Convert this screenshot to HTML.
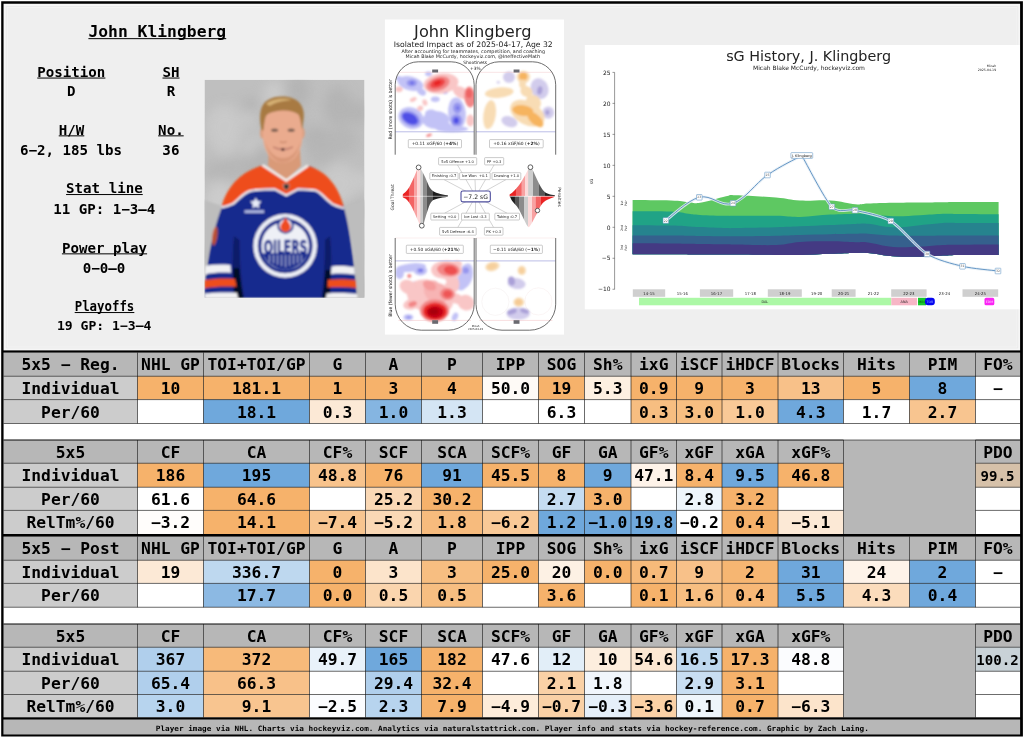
<!DOCTYPE html>
<html lang="en">
<head>
<meta charset="utf-8">
<title>John Klingberg – 5x5 player card</title>
<style>
html,body{margin:0;padding:0;background:#fff;}
body{width:1024px;height:738px;overflow:hidden;}
svg{display:block;}
text{white-space:pre;}
</style>
</head>
<body>
<svg width="1024" height="738" viewBox="0 0 1024 738" font-family="'DejaVu Sans Mono','Liberation Mono',monospace" font-weight="bold" font-size="16.3" text-anchor="middle" fill="#000">
<rect x="0.00" y="0.00" width="1024.00" height="738.00" fill="#ffffff" />
<rect x="2.50" y="2.60" width="1018.90" height="732.90" fill="#efefef" />
<path d="M3.5 3.6H1020.1V351H3.5Z M7.6 7.8V346.8H1016.6V7.8Z" fill="#f6f6f6" fill-rule="evenodd"/>
<path d="M6.3 6.5H1017.8V348H6.3Z" fill="none" stroke="#e6e6e6" stroke-width="0.7"/>
<g transform="scale(1 0.95)">
<text x="157.30" y="39.37" font-size="16.35">John Klingberg</text>
<rect x="88.40" y="40.16" width="137.80" height="1.05"/>
<text x="71.30" y="80.84" font-size="14.15">Position</text>
<rect x="37.23" y="81.63" width="68.15" height="1.05"/>
<text x="171.00" y="80.84" font-size="14.15">SH</text>
<rect x="162.48" y="81.63" width="17.04" height="1.05"/>
<text x="71.30" y="100.63" font-size="14.15">D</text>
<text x="170.90" y="100.63" font-size="14.15">R</text>
<text x="71.50" y="141.68" font-size="14.15">H/W</text>
<rect x="58.72" y="142.47" width="25.55" height="1.05"/>
<text x="170.90" y="141.68" font-size="14.15">No.</text>
<rect x="158.12" y="142.47" width="25.55" height="1.05"/>
<text x="71.00" y="163.26" font-size="14.15">6−2, 185 lbs</text>
<text x="170.90" y="163.26" font-size="14.15">36</text>
<text x="104.40" y="203.47" font-size="14.15">Stat line</text>
<rect x="66.07" y="204.26" width="76.66" height="1.05"/>
<text x="104.30" y="225.58" font-size="14.15">11 GP: 1−3—4</text>
<text x="104.50" y="265.89" font-size="14.15">Power play</text>
<rect x="61.91" y="266.68" width="85.18" height="1.05"/>
<text x="104.10" y="287.47" font-size="14.15">0−0—0</text>
<text x="104.50" y="327.68" font-size="14.15" textLength="59.63" lengthAdjust="spacingAndGlyphs">Playoffs</text>
<rect x="74.69" y="328.47" width="59.63" height="1.05"/>
<text x="104.20" y="347.26" font-size="13.1">19 GP: 1−3—4</text>
</g>
<defs>
<clipPath id="pc"><rect x="204.5" y="79.8" width="160.0" height="218.0"/></clipPath>
<filter id="b1" x="-20%" y="-20%" width="140%" height="140%"><feGaussianBlur stdDeviation="0.85"/></filter>
<filter id="b2" x="-20%" y="-20%" width="140%" height="140%"><feGaussianBlur stdDeviation="1.4"/></filter>
<filter id="b6" x="-50%" y="-50%" width="200%" height="200%"><feGaussianBlur stdDeviation="6"/></filter>
</defs>
<g clip-path="url(#pc)">
<rect x="204.5" y="79.8" width="160.0" height="218.0" fill="#bfbfbf"/>
<g filter="url(#b6)" opacity="0.55">
<ellipse cx="256.3" cy="112.7" rx="18.4" ry="9.2" fill="#d6d6d6"/>
<ellipse cx="219.6" cy="206.8" rx="22.6" ry="11.4" fill="#d2d2d2"/>
<ellipse cx="273.9" cy="95.0" rx="9.5" ry="14.8" fill="#d6d6d6"/>
<ellipse cx="224.3" cy="128.5" rx="18.0" ry="23.2" fill="#d6d6d6"/>
<ellipse cx="298.2" cy="90.6" rx="11.5" ry="16.9" fill="#acacac"/>
<ellipse cx="250.8" cy="111.2" rx="9.9" ry="12.9" fill="#a8a8a8"/>
<ellipse cx="233.4" cy="206.6" rx="18.2" ry="14.0" fill="#d6d6d6"/>
<ellipse cx="318.4" cy="202.8" rx="17.9" ry="15.9" fill="#d6d6d6"/>
<ellipse cx="272.9" cy="148.3" rx="17.4" ry="15.3" fill="#cccccc"/>
<ellipse cx="244.2" cy="119.0" rx="20.5" ry="9.3" fill="#cccccc"/>
<ellipse cx="288.5" cy="270.6" rx="19.7" ry="12.6" fill="#d2d2d2"/>
<ellipse cx="223.4" cy="171.0" rx="20.1" ry="10.4" fill="#b0b0b0"/>
<ellipse cx="272.0" cy="289.5" rx="9.2" ry="16.9" fill="#cccccc"/>
<ellipse cx="258.9" cy="156.1" rx="15.9" ry="20.8" fill="#d2d2d2"/>
<ellipse cx="338.9" cy="285.7" rx="15.6" ry="18.6" fill="#d2d2d2"/>
<ellipse cx="321.5" cy="147.3" rx="17.2" ry="18.9" fill="#b0b0b0"/>
<ellipse cx="250.0" cy="163.9" rx="18.7" ry="8.4" fill="#b0b0b0"/>
<ellipse cx="261.4" cy="213.0" rx="15.9" ry="11.5" fill="#cccccc"/>
<ellipse cx="225.2" cy="133.8" rx="14.3" ry="21.9" fill="#d2d2d2"/>
<ellipse cx="231.1" cy="167.4" rx="12.4" ry="10.2" fill="#b0b0b0"/>
<ellipse cx="342.7" cy="140.5" rx="14.6" ry="13.7" fill="#b0b0b0"/>
<ellipse cx="357.7" cy="112.7" rx="10.8" ry="11.7" fill="#acacac"/>
<ellipse cx="206.4" cy="261.0" rx="10.9" ry="12.5" fill="#acacac"/>
<ellipse cx="271.5" cy="160.3" rx="17.1" ry="23.2" fill="#a8a8a8"/>
<ellipse cx="342.0" cy="286.9" rx="18.5" ry="19.8" fill="#b0b0b0"/>
<ellipse cx="348.4" cy="249.8" rx="22.0" ry="20.8" fill="#b0b0b0"/>
<ellipse cx="268.2" cy="165.7" rx="15.7" ry="14.4" fill="#acacac"/>
<ellipse cx="215.3" cy="125.3" rx="10.6" ry="13.4" fill="#d2d2d2"/>
<ellipse cx="220.9" cy="203.4" rx="16.6" ry="23.2" fill="#d6d6d6"/>
<ellipse cx="208.6" cy="270.4" rx="17.8" ry="10.4" fill="#cccccc"/>
<ellipse cx="357.4" cy="211.1" rx="15.6" ry="9.8" fill="#b0b0b0"/>
<ellipse cx="363.4" cy="181.4" rx="15.7" ry="9.4" fill="#d2d2d2"/>
<ellipse cx="324.4" cy="241.2" rx="15.7" ry="19.1" fill="#d6d6d6"/>
<ellipse cx="208.2" cy="287.1" rx="16.5" ry="10.3" fill="#d6d6d6"/>
<ellipse cx="350.8" cy="245.1" rx="12.8" ry="18.3" fill="#d2d2d2"/>
<ellipse cx="315.9" cy="136.7" rx="13.9" ry="10.7" fill="#acacac"/>
<ellipse cx="289.7" cy="249.6" rx="13.3" ry="11.6" fill="#acacac"/>
<ellipse cx="333.5" cy="258.2" rx="19.8" ry="11.6" fill="#d6d6d6"/>
<ellipse cx="283.3" cy="239.2" rx="23.8" ry="20.6" fill="#b0b0b0"/>
<ellipse cx="246.0" cy="230.8" rx="23.3" ry="15.2" fill="#a8a8a8"/>
<ellipse cx="362.6" cy="288.0" rx="13.8" ry="11.5" fill="#acacac"/>
<ellipse cx="279.7" cy="153.4" rx="15.7" ry="23.8" fill="#d6d6d6"/>
<ellipse cx="339.0" cy="184.3" rx="18.4" ry="20.8" fill="#d2d2d2"/>
<ellipse cx="338.0" cy="105.9" rx="14.2" ry="19.4" fill="#acacac"/>
<ellipse cx="281.0" cy="118.7" rx="20.6" ry="13.3" fill="#a8a8a8"/>
<ellipse cx="267.8" cy="167.3" rx="23.1" ry="19.6" fill="#acacac"/>
</g>
<g filter="url(#b1)">
<path d="M222 206 C230 196 244 172 262 166 L286 181 L309 166 C326 172 338 194 344 207 C350 230 353 256 357 298 L204 298 C207 262 212 232 222 206Z" fill="#172b8e"/>
<path d="M234 236 C232 256 232 278 234.5 298 L244 298 C241 280 239.5 258 239.5 240Z" fill="#0c1450" opacity="0.6"/>
<path d="M233.4 268 C233 278 233.6 288 234.6 298 L243.6 298 C241.6 288 240 278 239 268Z" fill="#04061a" opacity="0.85"/>
<path d="M330 236 C332 256 331.4 278 329.6 298 L321.4 298 C324 280 325 258 325 240Z" fill="#0c1450" opacity="0.6"/>
<path d="M330.4 270 C330.8 280 330.4 290 329.6 298 L322.4 298 C323.8 290 324.8 280 325.4 270Z" fill="#04061a" opacity="0.8"/>
<path d="M204.5 200 L222 206 C214 228 209 250 205 270 L204.5 270Z" fill="#bdbdbd"/>
<path d="M364.5 200 L344 207 C350 228 354 250 357 280 L358 298 L364.5 298Z" fill="#bdbdbd"/>
<path d="M221.6 206 C227 187 240 172 262 165.5 L286 181 L308.5 166 C328 172 339 188 343.8 207 C338 205.5 334 204.5 332 203.2 C328 200.5 325 197.5 322 194.4 C320 192.4 318 190.8 316 190 C310 188.8 304 188.6 298 188.5 L286.3 194.5 L274.7 188.5 C268 188.6 262 188.8 256 189.3 C253.5 189.6 251.5 190 249.8 190.4 C247.5 191.4 245.5 192.6 243.4 194.2 C240 197 237 200.4 233.2 203.2 C230 204.8 226 206 221.6 206Z" fill="#ee4e1a"/>
<path d="M221.4 207.6 C226 206.6 230 205.2 233.4 203.6 C237 200.8 240 197.4 243.6 194.6 C245.6 193 247.6 191.8 250 191 C252 190.5 254 190.2 256 190 C262 189.5 268 189.3 274.6 189.2 L286.3 195.3 L298 189.2 C304 189.3 310 189.5 316 190.6 C318 191.3 320 192.8 322 194.8 C325 197.9 328 200.9 332 203.8 C335 205.4 339 206.8 344 208.4" fill="none" stroke="#f4f2f4" stroke-width="2.0"/>
<path d="M269 150 L268 166 L286.3 180 L301 166 L300 150Z" fill="#d99a78"/>
<path d="M262.5 165 L286.3 180.5 L308 165.6" fill="none" stroke="#f4f2f0" stroke-width="2.4"/>
<path d="M283.6 184 h5.4 v3.6 l-2.7 2.6 l-2.7 -2.6Z" fill="#2a2a2a" stroke="#c8c8c8" stroke-width="0.6"/>
<path d="M255.8 197.5 l1.7 3.6 4 .5 -2.9 2.8 .7 3.9 -3.5 -1.9 -3.5 1.9 .7 -3.9 -2.9 -2.8 4 -.5z" fill="#e8ecf8"/>
<rect x="244.5" y="210.3" width="19.5" height="2.6" fill="#c9d2ee" opacity="0.9"/>
<path d="M205.5 265.8 C214 264.4 222 264.2 230.5 265 L231 272.8 C222 272.2 213 272.6 205 274.2Z" fill="#f1f1f3"/>
<path d="M204.5 280.2 C214 278.6 225 278.2 235 279 L236.5 286.8 C225 286.2 214 286.6 204.5 288.2Z" fill="#ee4e1a"/>
<path d="M204.5 293.6 C214 292.4 226 292 237 292.8 L238 298 L204.5 298Z" fill="#f1f1f3"/>
<path d="M331.5 266.5 C339 265.6 347 266 354 267.2 L355 274.6 C347 273.4 339 273.2 331 274Z" fill="#f1f1f3"/>
<path d="M328 279.8 C337 278.8 347 279 355.6 280.2 L356.4 288 C347 286.8 337 286.6 327.5 287.4Z" fill="#ee4e1a"/>
<path d="M326.5 293.4 C337 292.6 348 292.8 357 294 L357.4 298 L326 298Z" fill="#f1f1f3"/>
<ellipse cx="214.8" cy="236" rx="2.6" ry="9.5" fill="#d4562a" opacity="0.85" transform="rotate(8 214.8 236)"/>
<circle cx="285.2" cy="245.9" r="31.8" fill="#eef0f6"/>
<circle cx="285.2" cy="245.9" r="27.4" fill="#172b8e"/>
<circle cx="285.2" cy="245.9" r="23.8" fill="#eef0f6"/>
<path d="M262.59999999999997 253.3 H307.8 C304.2 262.9 294.2 269.7 285.2 269.7 C276.2 269.7 266.2 262.9 262.59999999999997 253.3Z" fill="#172b8e"/>
<g stroke="#e4e8f4" stroke-width="0.8"><line x1="269.7" y1="254.9" x2="269.7" y2="261.97499999999997"/><line x1="273.7" y1="254.9" x2="273.7" y2="263.375"/><line x1="277.7" y1="254.9" x2="277.7" y2="264.775"/><line x1="281.7" y1="254.9" x2="281.7" y2="266.17499999999995"/><line x1="285.7" y1="254.9" x2="285.7" y2="267.22499999999997"/><line x1="289.7" y1="254.9" x2="289.7" y2="265.825"/><line x1="293.7" y1="254.9" x2="293.7" y2="264.42499999999995"/><line x1="297.7" y1="254.9" x2="297.7" y2="263.025"/><line x1="301.2" y1="254.9" x2="301.2" y2="261.79999999999995"/></g>
<circle cx="285.5" cy="225.5" r="8.3" fill="#172b8e"/>
<circle cx="285.5" cy="225.5" r="6.4" fill="#eef0f6"/>
<path d="M285.5 217.1 C287.5 221.4 290.59999999999997 223.9 290.59999999999997 226.9 A5.1 5.1 0 0 1 280.4 226.9 C280.4 223.9 283.5 221.4 285.5 217.1Z" fill="#ee4b23"/>
<text x="285.5" y="253.5" font-family="'DejaVu Sans','Liberation Sans',sans-serif" font-weight="bold" font-size="18.6" fill="#172b8e" textLength="43.5" lengthAdjust="spacingAndGlyphs" stroke="#172b8e" stroke-width="0.5">OILERS</text>
</g>
<g filter="url(#b1)">
<ellipse cx="262.4" cy="133" rx="2.4" ry="5.5" fill="#dc9f80"/>
<ellipse cx="302.4" cy="133" rx="2.4" ry="5.5" fill="#dc9f80"/>
<path d="M262.6 118 C262.6 104 272 103 282.5 103 C294 103 302.6 105 302.6 118 L302.4 138 C301.4 152 294.5 162.8 283 162.8 C271.5 162.8 264 152 263 138Z" fill="#eaab8e"/>
<path d="M264.5 140 C267.5 154 274 162 283 162.4 C292 162 298.5 154 301 140 C297.5 152 291 158 283 158 C275 158 268.5 152 264.5 140Z" fill="#d2906f" opacity="0.7"/>
<path d="M261.5 130 C258.5 116 260 104 268 100 C274 96 286 95.5 293 98.5 C301 101 305 110 303.6 119 L302.3 130 C301 124 300.5 118 298.5 114.5 C294 111 286 110 280 110.8 C273 111.5 268 113 266 116 C264.5 120 264 126 263.4 130.5Z" fill="#a87a42"/>
<path d="M266 104 C272 98.5 284 97.5 292 100 C286 100.5 276 101.5 270 106Z" fill="#d9b679" opacity="0.9"/>
<ellipse cx="274.6" cy="130.2" rx="3.6" ry="1.7" fill="#6a5248" opacity="0.85"/>
<ellipse cx="291.2" cy="130.2" rx="3.6" ry="1.7" fill="#6a5248" opacity="0.85"/>
<path d="M280 141.5 Q283 143.5 286.5 141.5" stroke="#c07e62" stroke-width="1.2" fill="none"/>
<path d="M273.2 147 Q283 150.8 292.8 147 Q283 153.4 273.2 147Z" fill="#f6ecea" stroke="#b36a5a" stroke-width="0.8"/>
<rect x="281.6" y="148" width="2.6" height="2.8" fill="#3a1518"/>
</g>
</g>
<g font-family="'DejaVu Sans','Liberation Sans',sans-serif" font-weight="normal" fill="#222">
<rect x="384.9" y="19.5" width="179.1" height="315.1" fill="#ffffff"/>
<text x="472.8" y="36.5" font-size="16.2">John Klingberg</text>
<text x="473.2" y="47" font-size="7.67">Isolated Impact as of 2025-04-17, Age 32</text>
<text x="473.2" y="52.6" font-size="4.8">After accounting for teammates, competition, and coaching</text>
<text x="472.8" y="58" font-size="4.79">Micah Blake McCurdy, hockeyviz.com, @IneffectiveMath</text>
<text x="475.2" y="63.6" font-size="4.4">Shootiness</text>
<text x="475.4" y="69.6" font-size="4.4">+3%</text>
<text transform="translate(391.6 109.4) rotate(-90)" font-size="4.6" stroke="#222" stroke-width="0.04">Red (more shots) is better</text>
<text transform="translate(393.6 197.4) rotate(-90)" font-size="4.5">Goal Threat</text>
<text transform="translate(391.6 285.6) rotate(-90)" font-size="4.6" stroke="#222" stroke-width="0.04">Blue (fewer shots) is better</text>
<text transform="translate(558.2 197) rotate(90)" font-size="4.3">Penalties</text>
<text x="475.6" y="327.2" font-size="2.6">Micah</text>
<text x="475.6" y="330.2" font-size="2.6">2025-04-19</text>
<defs>
<clipPath id="r1"><path d="M395.2 154.7V84.8A23 23 0 0 1 418.2 61.8H451.2A23 23 0 0 1 474.2 84.8V154.7Z"/></clipPath>
<clipPath id="r2"><path d="M476.0 154.7V84.8A23 23 0 0 1 499.0 61.8H532.7A23 23 0 0 1 555.7 84.8V154.7Z"/></clipPath>
<clipPath id="r3"><path d="M395.2 238V304.2A26 26 0 0 0 421.2 330.2H448.2A26 26 0 0 0 474.2 304.2V238Z"/></clipPath>
<clipPath id="r4"><path d="M476.0 238V304.2A26 26 0 0 0 502.0 330.2H529.7A26 26 0 0 0 555.7 304.2V238Z"/></clipPath>
<filter id="hb" x="-10%" y="-10%" width="120%" height="120%"><feGaussianBlur stdDeviation="1.0"/></filter>
<filter id="hc" x="-10%" y="-10%" width="120%" height="120%"><feGaussianBlur stdDeviation="0.95"/></filter>
<linearGradient id="vl" gradientUnits="userSpaceOnUse" x1="402" y1="0" x2="448" y2="0"><stop offset="0.000" stop-color="#ea2424"/><stop offset="0.140" stop-color="#ea2424"/><stop offset="0.152" stop-color="#f36464"/><stop offset="0.255" stop-color="#f36464"/><stop offset="0.267" stop-color="#f8a2a2"/><stop offset="0.320" stop-color="#f8a2a2"/><stop offset="0.332" stop-color="#fcd9d9"/><stop offset="0.394" stop-color="#fcd9d9"/><stop offset="0.406" stop-color="#cdcdcd"/><stop offset="0.446" stop-color="#cdcdcd"/><stop offset="0.458" stop-color="#8c8c8c"/><stop offset="0.542" stop-color="#8c8c8c"/><stop offset="0.554" stop-color="#555555"/><stop offset="0.668" stop-color="#555555"/><stop offset="0.680" stop-color="#1e1e1e"/><stop offset="0.994" stop-color="#1e1e1e"/></linearGradient>
<linearGradient id="vr2" gradientUnits="userSpaceOnUse" x1="509" y1="0" x2="555" y2="0"><stop offset="0.000" stop-color="#ea2424"/><stop offset="0.140" stop-color="#ea2424"/><stop offset="0.152" stop-color="#f36464"/><stop offset="0.266" stop-color="#f36464"/><stop offset="0.278" stop-color="#f8a2a2"/><stop offset="0.340" stop-color="#f8a2a2"/><stop offset="0.352" stop-color="#fcd9d9"/><stop offset="0.414" stop-color="#fcd9d9"/><stop offset="0.426" stop-color="#cdcdcd"/><stop offset="0.520" stop-color="#cdcdcd"/><stop offset="0.532" stop-color="#8c8c8c"/><stop offset="0.646" stop-color="#8c8c8c"/><stop offset="0.658" stop-color="#555555"/><stop offset="0.777" stop-color="#555555"/><stop offset="0.789" stop-color="#1e1e1e"/><stop offset="0.994" stop-color="#1e1e1e"/></linearGradient>
<linearGradient id="vr" gradientUnits="userSpaceOnUse" x1="509" y1="0" x2="555" y2="0"><stop offset="0.000" stop-color="#1e1e1e"/><stop offset="0.118" stop-color="#1e1e1e"/><stop offset="0.130" stop-color="#555555"/><stop offset="0.211" stop-color="#555555"/><stop offset="0.223" stop-color="#8c8c8c"/><stop offset="0.320" stop-color="#8c8c8c"/><stop offset="0.332" stop-color="#cdcdcd"/><stop offset="0.405" stop-color="#cdcdcd"/><stop offset="0.417" stop-color="#fcd9d9"/><stop offset="0.498" stop-color="#fcd9d9"/><stop offset="0.510" stop-color="#f8a2a2"/><stop offset="0.574" stop-color="#f8a2a2"/><stop offset="0.586" stop-color="#f36464"/><stop offset="0.690" stop-color="#f36464"/><stop offset="0.702" stop-color="#ea2424"/><stop offset="0.994" stop-color="#ea2424"/></linearGradient>
</defs>
<g clip-path="url(#r1)"><g filter="url(#hb)">
<ellipse cx="410.5" cy="83.5" rx="13.0" ry="7.0" fill="#c2c2f6" transform="rotate(14 410.5 83.5)"/>
<ellipse cx="421.5" cy="91.8" rx="4.8" ry="3.2" fill="#c2c2f6" transform="rotate(35 421.5 91.8)"/>
<ellipse cx="398.8" cy="78.5" rx="3.0" ry="2.4" fill="#c2c2f6"/>
<ellipse cx="411.8" cy="83.0" rx="5.2" ry="3.4" fill="#9696ee"/>
<ellipse cx="412.0" cy="83.0" rx="2.0" ry="1.4" fill="#6a6ae8"/>
<ellipse cx="428.5" cy="73.8" rx="3.4" ry="2.4" fill="#c2c2f6"/>
<ellipse cx="445.0" cy="91.4" rx="2.8" ry="2.4" fill="#9696ee"/>
<ellipse cx="435.3" cy="99.2" rx="4.4" ry="2.8" fill="#c2c2f6"/>
<ellipse cx="411.0" cy="118.0" rx="13.0" ry="10.5" fill="#c2c2f6" transform="rotate(25 411.0 118.0)"/>
<ellipse cx="410.4" cy="118.5" rx="10.5" ry="7.0" fill="#9696ee" transform="rotate(28 410.4 118.5)"/>
<ellipse cx="410.0" cy="118.5" rx="8.5" ry="5.0" fill="#5050e6" transform="rotate(28 410.0 118.5)"/>
<ellipse cx="436.0" cy="120.0" rx="13.5" ry="9.0" fill="#c2c2f6"/>
<ellipse cx="431.0" cy="113.5" rx="6.0" ry="4.0" fill="#c2c2f6"/>
<ellipse cx="443.0" cy="126.0" rx="9.0" ry="4.0" fill="#c2c2f6"/>
<ellipse cx="457.0" cy="113.0" rx="8.8" ry="15.5" fill="#c2c2f6" transform="rotate(-6 457.0 113.0)"/>
<ellipse cx="457.4" cy="108.0" rx="4.4" ry="5.4" fill="#9696ee"/>
<ellipse cx="456.4" cy="120.5" rx="5.8" ry="6.2" fill="#9696ee"/>
<ellipse cx="456.2" cy="120.5" rx="2.8" ry="3.2" fill="#5050e6"/>
<ellipse cx="457.6" cy="108.0" rx="1.4" ry="1.8" fill="#6a6ae8"/>
<ellipse cx="452.0" cy="129.0" rx="16.0" ry="3.2" fill="#c2c2f6"/>
<ellipse cx="441.0" cy="83.5" rx="17.5" ry="10.0" fill="#f9c6c6" transform="rotate(-8 441.0 83.5)"/>
<ellipse cx="461.0" cy="92.5" rx="9.0" ry="5.4" fill="#f9c6c6" transform="rotate(30 461.0 92.5)"/>
<ellipse cx="438.0" cy="83.8" rx="12.0" ry="7.0" fill="#f28686" transform="rotate(-18 438.0 83.8)"/>
<ellipse cx="437.6" cy="83.4" rx="8.0" ry="4.4" fill="#ee4a4a" transform="rotate(-20 437.6 83.4)"/>
<ellipse cx="437.4" cy="83.0" rx="4.0" ry="2.0" fill="#e82020" transform="rotate(-20 437.4 83.0)"/>
<ellipse cx="469.8" cy="97.0" rx="5.6" ry="10.5" fill="#f28686" transform="rotate(-5 469.8 97.0)"/>
<ellipse cx="469.0" cy="93.5" rx="3.2" ry="4.6" fill="#ee6464"/>
<ellipse cx="470.4" cy="120.5" rx="3.8" ry="6.0" fill="#f9c6c6"/>
<ellipse cx="399.0" cy="89.3" rx="3.6" ry="2.8" fill="#f9c6c6"/>
<ellipse cx="413.2" cy="99.6" rx="3.6" ry="2.0" fill="#f9c6c6" transform="rotate(-25 413.2 99.6)"/>
<ellipse cx="424.9" cy="102.6" rx="2.4" ry="3.2" fill="#f9c6c6" transform="rotate(-20 424.9 102.6)"/>
<ellipse cx="420.2" cy="108.3" rx="3.0" ry="2.6" fill="#f9c6c6" transform="rotate(-30 420.2 108.3)"/>
<ellipse cx="429.0" cy="135.2" rx="3.0" ry="1.4" fill="#f28686" transform="rotate(-20 429.0 135.2)"/>
</g></g>
<g clip-path="url(#r2)"><g filter="url(#hc)">
<ellipse cx="509.0" cy="77.2" rx="6.0" ry="5.6" fill="#d2ccec"/>
<ellipse cx="498.3" cy="82.3" rx="1.6" ry="1.4" fill="#d2ccec"/>
<ellipse cx="539.6" cy="88.6" rx="8.6" ry="10.6" fill="#d2ccec" transform="rotate(-25 539.6 88.6)"/>
<ellipse cx="539.8" cy="90.4" rx="2.6" ry="4.2" fill="#aaa0d8" transform="rotate(10 539.8 90.4)"/>
<ellipse cx="548.3" cy="112.6" rx="5.8" ry="6.2" fill="#d2ccec"/>
<ellipse cx="547.4" cy="112.4" rx="2.2" ry="2.6" fill="#aaa0d8"/>
<ellipse cx="509.4" cy="121.6" rx="8.2" ry="5.2" fill="#d2ccec" transform="rotate(18 509.4 121.6)"/>
<ellipse cx="523.4" cy="77.0" rx="6.6" ry="6.2" fill="#f8dcb4"/>
<ellipse cx="523.2" cy="76.4" rx="4.2" ry="3.8" fill="#f6b45e"/>
<ellipse cx="522.5" cy="84.0" rx="3.4" ry="4.4" fill="#f8dcb4"/>
<ellipse cx="499.2" cy="92.6" rx="14.4" ry="5.2" fill="#f8dcb4" transform="rotate(-6 499.2 92.6)"/>
<ellipse cx="489.6" cy="114.6" rx="6.2" ry="14.6" fill="#f8dcb4" transform="rotate(8 489.6 114.6)"/>
<ellipse cx="526.5" cy="91.5" rx="6.4" ry="5.2" fill="#f8dcb4" transform="rotate(30 526.5 91.5)"/>
<ellipse cx="533.5" cy="102.0" rx="8.0" ry="6.8" fill="#f8dcb4" transform="rotate(40 533.5 102.0)"/>
<ellipse cx="527.4" cy="113.2" rx="18.4" ry="11.6" fill="#f8dcb4" transform="rotate(28 527.4 113.2)"/>
<ellipse cx="522.8" cy="110.5" rx="10.6" ry="5.4" fill="#f6b45e" transform="rotate(8 522.8 110.5)"/>
<ellipse cx="535.4" cy="119.6" rx="9.8" ry="5.0" fill="#f6b45e" transform="rotate(42 535.4 119.6)"/>
</g></g>
<g clip-path="url(#r3)"><g filter="url(#hb)">
<ellipse cx="411.0" cy="267.6" rx="15.0" ry="4.2" fill="#c2c2f6" transform="rotate(-6 411.0 267.6)"/>
<ellipse cx="399.6" cy="273.0" rx="4.4" ry="6.0" fill="#c2c2f6"/>
<ellipse cx="420.4" cy="270.6" rx="6.8" ry="4.8" fill="#c2c2f6"/>
<ellipse cx="420.4" cy="270.4" rx="3.4" ry="2.4" fill="#9696ee"/>
<ellipse cx="420.6" cy="270.4" rx="1.6" ry="1.2" fill="#6a6ae8"/>
<ellipse cx="465.4" cy="276.0" rx="7.2" ry="12.8" fill="#c2c2f6" transform="rotate(14 465.4 276.0)"/>
<ellipse cx="465.8" cy="270.4" rx="3.2" ry="3.2" fill="#9696ee"/>
<ellipse cx="461.0" cy="286.0" rx="5.0" ry="4.4" fill="#c2c2f6"/>
<ellipse cx="408.4" cy="317.2" rx="4.8" ry="3.0" fill="#c2c2f6"/>
<ellipse cx="408.6" cy="317.4" rx="2.4" ry="1.4" fill="#9696ee"/>
<ellipse cx="455.0" cy="316.8" rx="2.8" ry="4.4" fill="#c2c2f6" transform="rotate(25 455.0 316.8)"/>
<ellipse cx="414.2" cy="282.8" rx="1.3" ry="1.3" fill="#9696ee"/>
<ellipse cx="430.0" cy="297.0" rx="24.0" ry="16.5" fill="#f9c6c6" transform="rotate(20 430.0 297.0)"/>
<ellipse cx="408.0" cy="287.0" rx="8.6" ry="6.8" fill="#f9c6c6" transform="rotate(25 408.0 287.0)"/>
<ellipse cx="412.0" cy="304.0" rx="9.0" ry="5.4" fill="#f9c6c6" transform="rotate(-15 412.0 304.0)"/>
<ellipse cx="466.0" cy="302.6" rx="8.6" ry="7.6" fill="#f9c6c6" transform="rotate(25 466.0 302.6)"/>
<ellipse cx="456.0" cy="298.5" rx="8.0" ry="5.0" fill="#f9c6c6" transform="rotate(20 456.0 298.5)"/>
<ellipse cx="446.6" cy="270.0" rx="15.5" ry="9.4" fill="#f9c6c6"/>
<ellipse cx="452.0" cy="284.0" rx="7.4" ry="9.4" fill="#f9c6c6"/>
<ellipse cx="457.0" cy="264.0" rx="5.0" ry="3.6" fill="#f9c6c6"/>
<ellipse cx="436.0" cy="292.0" rx="13.0" ry="10.5" fill="#f7b4b4" transform="rotate(35 436.0 292.0)"/>
<ellipse cx="429.5" cy="285.5" rx="7.0" ry="4.6" fill="#f59c9c" transform="rotate(25 429.5 285.5)"/>
<ellipse cx="448.4" cy="269.8" rx="11.4" ry="6.6" fill="#f28686" transform="rotate(5 448.4 269.8)"/>
<ellipse cx="450.6" cy="270.2" rx="6.8" ry="4.4" fill="#ee5050" transform="rotate(10 450.6 270.2)"/>
<ellipse cx="447.4" cy="294.0" rx="7.4" ry="6.0" fill="#f28686" transform="rotate(10 447.4 294.0)"/>
<ellipse cx="447.6" cy="294.0" rx="4.6" ry="3.8" fill="#ee5656"/>
<ellipse cx="412.6" cy="304.0" rx="4.4" ry="2.6" fill="#f28686" transform="rotate(-20 412.6 304.0)"/>
<ellipse cx="434.6" cy="310.6" rx="14.6" ry="11.0" fill="#f28686"/>
<ellipse cx="435.0" cy="311.4" rx="12.0" ry="8.8" fill="#ea2c2c"/>
<ellipse cx="435.0" cy="312.0" rx="8.6" ry="6.2" fill="#c40612"/>
<ellipse cx="433.8" cy="311.6" rx="4.6" ry="3.2" fill="#a8000a"/>
<ellipse cx="409.3" cy="276.0" rx="2.1" ry="2.1" fill="#f28686"/>
<ellipse cx="441.4" cy="281.0" rx="5.2" ry="2.6" fill="#ffffff" transform="rotate(18 441.4 281.0)"/>
</g></g>
<g clip-path="url(#r4)">
<circle cx="495.4" cy="301.8" r="13.6" fill="none" stroke="#f5f0f0" stroke-width="0.6"/><circle cx="538.4" cy="301.4" r="13.6" fill="none" stroke="#f8eeee" stroke-width="0.6"/>
<g filter="url(#hc)">
<ellipse cx="492.4" cy="266.4" rx="7.2" ry="4.6" fill="#f8dcb4" transform="rotate(-12 492.4 266.4)"/>
<ellipse cx="492.0" cy="266.4" rx="5.0" ry="3.0" fill="#f6cf9c" transform="rotate(-12 492.0 266.4)"/>
<ellipse cx="521.8" cy="270.4" rx="4.2" ry="4.6" fill="#f8dcb4"/>
<ellipse cx="521.6" cy="270.6" rx="2.6" ry="3.0" fill="#f6cf9c"/>
<ellipse cx="518.8" cy="302.2" rx="5.4" ry="4.6" fill="#f8dcb4"/>
<ellipse cx="518.6" cy="302.2" rx="3.6" ry="3.0" fill="#f6cb94"/>
<ellipse cx="516.6" cy="283.6" rx="9.0" ry="5.4" fill="#d2ccec" transform="rotate(8 516.6 283.6)"/>
<ellipse cx="511.5" cy="281.0" rx="3.4" ry="4.6" fill="#aaa0d8" transform="rotate(-10 511.5 281.0)"/>
<ellipse cx="518.2" cy="313.6" rx="11.6" ry="6.2" fill="#d2ccec"/>
<ellipse cx="512.0" cy="311.6" rx="5.0" ry="2.6" fill="#aaa0d8" transform="rotate(-20 512.0 311.6)"/>
<ellipse cx="524.6" cy="311.0" rx="4.6" ry="2.4" fill="#aaa0d8" transform="rotate(15 524.6 311.0)"/>
</g></g>
<g fill="none">
<path d="M398.5 72.3H471 M479.3 72.3H552.4" stroke="#f3c6c8" stroke-width="0.5"/>
<path d="M395.2 131.8H474.2 M476 131.8H555.7 M395.2 260.9H474.2 M476 260.9H555.7" stroke="#b4b6e4" stroke-width="0.9"/>
<path d="M395.2 238H474.2 M476 238H555.7" stroke="#f6dcdc" stroke-width="0.5"/>
<path d="M398.5 320.4H471 M479.3 320.4H552.4" stroke="#f0bcc0" stroke-width="0.5"/>
<path d="M395.2 154.7V84.8A23 23 0 0 1 418.2 61.8H451.2A23 23 0 0 1 474.2 84.8V154.7 M476.0 154.7V84.8A23 23 0 0 1 499.0 61.8H532.7A23 23 0 0 1 555.7 84.8V154.7 M395.2 238V304.2A26 26 0 0 0 421.2 330.2H448.2A26 26 0 0 0 474.2 304.2V238 M476.0 238V304.2A26 26 0 0 0 502.0 330.2H529.7A26 26 0 0 0 555.7 304.2V238" stroke="#5c5c5c" stroke-width="0.9"/>
</g>
<g fill="#6a6a70"><rect x="432.2" y="69.5" width="5.9" height="3"/><rect x="513.6" y="69.5" width="5.9" height="3"/><rect x="432.2" y="320.2" width="5.9" height="3.6"/><rect x="513.6" y="320.2" width="5.9" height="3.6"/></g>
<rect x="408.3" y="139.6" width="53.2" height="8.2" rx="0.7" fill="#fff" stroke="#999" stroke-width="0.5"/><text x="434.9" y="145.28" font-size="4.4">+0.11 xGF/60 (<tspan font-weight="bold">+4%</tspan>)</text>
<rect x="489.5" y="139.6" width="53.7" height="8.2" rx="0.7" fill="#fff" stroke="#999" stroke-width="0.5"/><text x="516.4" y="145.28" font-size="4.4">+0.16 xGF/60 (<tspan font-weight="bold">+2%</tspan>)</text>
<rect x="406.3" y="245.2" width="57.0" height="8.2" rx="0.7" fill="#fff" stroke="#999" stroke-width="0.5"/><text x="434.8" y="250.88" font-size="4.4">+0.50 xGA/60 (<tspan font-weight="bold">+21%</tspan>)</text>
<rect x="490.3" y="245.2" width="52.1" height="8.2" rx="0.7" fill="#fff" stroke="#999" stroke-width="0.5"/><text x="516.4" y="250.88" font-size="4.4">−0.11 xGA/60 (<tspan font-weight="bold">−1%</tspan>)</text>
<g stroke="#a8a8a8" stroke-width="0.5" fill="none">
<line x1="475.7" y1="196.4" x2="457.5" y2="165"/>
<line x1="475.7" y1="196.4" x2="494" y2="165"/>
<line x1="475.7" y1="196.4" x2="444" y2="179.6"/>
<line x1="475.7" y1="196.4" x2="475" y2="179.6"/>
<line x1="475.7" y1="196.4" x2="506" y2="179.6"/>
<line x1="475.7" y1="196.4" x2="444.6" y2="213.2"/>
<line x1="475.7" y1="196.4" x2="475.4" y2="213.2"/>
<line x1="475.7" y1="196.4" x2="507" y2="213.2"/>
<line x1="475.7" y1="196.4" x2="457.8" y2="227.4"/>
<line x1="475.7" y1="196.4" x2="493.6" y2="227.4"/>
</g>
<rect x="438.6" y="157.6" width="38.1" height="7.3" rx="0.7" fill="#fff" stroke="#999" stroke-width="0.5"/><text x="457.6" y="162.58" font-size="3.7">5v5 Offence +1.0</text>
<rect x="484.6" y="157.6" width="19.1" height="7.3" rx="0.7" fill="#fff" stroke="#999" stroke-width="0.5"/><text x="494.1" y="162.58" font-size="3.7">PP +0.3</text>
<rect x="429.8" y="172.7" width="28.3" height="6.9" rx="0.7" fill="#fff" stroke="#999" stroke-width="0.5"/><text x="444.0" y="177.48" font-size="3.7">Finishing -0.7</text>
<rect x="459.6" y="172.7" width="30.6" height="6.9" rx="0.7" fill="#fff" stroke="#999" stroke-width="0.5"/><text x="474.9" y="177.48" font-size="3.7">Ice Won  +0.1</text>
<rect x="492.0" y="172.7" width="28.8" height="6.9" rx="0.7" fill="#fff" stroke="#999" stroke-width="0.5"/><text x="506.4" y="177.48" font-size="3.7">Drawing +1.0</text>
<rect x="430.8" y="213.2" width="27.8" height="6.8" rx="0.7" fill="#fff" stroke="#999" stroke-width="0.5"/><text x="444.7" y="217.93" font-size="3.7">Setting +0.0</text>
<rect x="461.5" y="213.2" width="27.8" height="6.8" rx="0.7" fill="#fff" stroke="#999" stroke-width="0.5"/><text x="475.4" y="217.93" font-size="3.7">Ice Lost -3.3</text>
<rect x="494.8" y="213.2" width="24.7" height="6.8" rx="0.7" fill="#fff" stroke="#999" stroke-width="0.5"/><text x="507.1" y="217.93" font-size="3.7">Taking -0.7</text>
<rect x="439.6" y="227.4" width="36.6" height="7.8" rx="0.7" fill="#fff" stroke="#999" stroke-width="0.5"/><text x="457.9" y="232.63" font-size="3.7">5v5 Defence -6.4</text>
<rect x="484.4" y="227.4" width="18.6" height="7.8" rx="0.7" fill="#fff" stroke="#999" stroke-width="0.5"/><text x="493.7" y="232.63" font-size="3.7">PK +0.3</text>
<rect x="461.0" y="191.0" width="29.3" height="10.9" rx="1.8" fill="#fff" stroke="#4c4c9c" stroke-width="1.1"/><text x="475.6" y="198.65" font-size="6.1">−7.2 sG</text>
<path d="M417.6 168 C415.5 174 413 180 410.6 184.4 C409 187.5 407.8 189.6 406.2 191.2 C405 192.6 403.4 193.6 402.8 194.4 L402.8 197.2 C403.6 197.8 404.4 198 405.3 198.6 C406.6 199.6 407.6 200.6 408.7 202 C410.6 204.6 412 207.5 413.6 210.7 C415.6 215 417.6 219.5 419.6 224.6 L423.6 224.6 C424.4 221 426.4 214 428.2 208.8 C429.2 205.6 430.4 202.6 432.1 201 C433.8 199.6 435.6 199 438 198.5 C441 197.8 444 197.4 447.9 196.8 L447.9 195.2 C444 194.8 441 194.2 438 193.2 C435.6 192.4 433.6 191.6 432.1 190.2 C430.6 188.8 429.6 187.4 428.7 185.4 C427.6 183 426.4 180.2 425.3 177.6 C424 174.6 422 171 420.2 168Z" fill="url(#vl)"/>
<line x1="402.6" y1="196.3" x2="448.2" y2="196.3" stroke="#fff" stroke-width="0.55"/>
<path d="M528.8 168 C526.6 172.6 524 177.4 521.5 181.5 C519.4 184.8 517 187.8 514.7 190.2 C513 192 511.2 193.4 509.6 194.6 L509.6 196.3 L554.9 196.3 L554.9 195.2 C552.6 195 550.6 194.8 548.8 194.1 C547 193.4 545.4 192.6 544 191.2 C542.4 189.6 541.2 187.6 540 185.4 C538.6 182.8 537.4 180.2 536.1 177.6 C534.8 174.8 533.4 171.6 531.8 168Z" fill="url(#vr2)"/>
<path d="M509.6 196.3 L510.3 197.2 C510.8 198.6 511.4 199.8 512.2 201 C513.4 202.8 515 204.2 516.6 205.9 C518.6 208.4 520 211.4 521.5 214.6 C523.2 218 524.8 221.4 526.4 224.4 C527.2 225.8 528 226.8 528.8 227.3 C529.6 226.6 531.4 224 533.2 220.5 C534.6 217.8 535.8 215.4 537.1 212.7 C538.6 209.6 540 206.4 542 203.9 C543.4 202.2 545 201 546.9 200 C549 198.8 551.4 198 553.7 197.2 L554.9 196.3Z" fill="url(#vr)"/>
<line x1="509.4" y1="196.3" x2="555" y2="196.3" stroke="#fff" stroke-width="0.55"/>
<g fill="#fff" stroke="#444" stroke-width="0.85"><circle cx="418.6" cy="167.4" r="2.4"/><circle cx="421.8" cy="225.7" r="2.4"/><circle cx="530.4" cy="167.2" r="2.4"/><circle cx="537.5" cy="210.5" r="2.2"/></g>
</g>
<g font-family="'DejaVu Sans','Liberation Sans',sans-serif" font-weight="normal" fill="#222">
<rect x="584.8" y="45" width="435.4" height="264.3" fill="#ffffff"/>
<text x="808.6" y="61.2" font-size="14.35">sG History, J. Klingberg</text>
<text x="809" y="69.9" font-size="5.99">Micah Blake McCurdy, hockeyviz.com</text>
<text x="996.2" y="66.6" font-size="3.2" text-anchor="end">Micah</text>
<text x="996.2" y="70.8" font-size="3.2" text-anchor="end">2025-04-19</text>
<path d="M632.6 199.9C640.3 200.0 659.8 200.0 671.0 200.4C682.2 200.8 682.7 201.5 688.5 202.0C694.3 202.5 692.5 204.0 700.0 202.8C707.5 201.6 718.8 197.7 726.0 196.2C733.2 194.7 726.0 194.9 736.0 195.2C746.0 195.5 763.2 196.5 776.0 197.6C788.8 198.7 789.1 200.0 800.0 200.6C810.9 201.2 819.4 199.8 830.5 200.5C841.6 201.2 848.0 203.7 855.5 204.3C863.0 204.9 860.5 203.9 868.0 203.6C875.5 203.3 882.6 203.0 893.0 202.8C903.4 202.6 910.0 202.6 920.0 202.5C930.0 202.4 935.0 202.3 943.0 202.2C951.0 202.1 948.9 202.0 960.0 202.0C971.1 202.0 990.9 202.0 998.6 202.0L998.6 255.0C990.9 255.0 971.1 254.9 960.0 255.0C948.9 255.1 951.0 255.3 943.0 255.6C935.0 255.9 930.0 256.6 920.0 256.7C910.0 256.8 903.4 256.9 893.0 256.2C882.6 255.5 875.5 253.7 868.0 253.1C860.5 252.5 863.0 252.9 855.5 253.0C848.0 253.1 841.6 253.4 830.5 253.8C819.4 254.2 810.9 254.8 800.0 255.0C789.1 255.2 788.8 255.0 776.0 254.9C763.2 254.8 746.0 254.7 736.0 254.6C726.0 254.5 733.2 254.5 726.0 254.5C718.8 254.5 707.5 254.5 700.0 254.5C692.5 254.5 694.3 254.4 688.5 254.4C682.7 254.4 682.2 254.3 671.0 254.3C659.8 254.3 640.3 254.2 632.6 254.2Z" fill="#5ec862"/>
<path d="M632.6 211.3C640.3 211.4 659.8 211.1 671.0 211.6C682.2 212.1 682.7 213.1 688.5 213.8C694.3 214.5 692.5 214.5 700.0 214.9C707.5 215.3 718.8 215.6 726.0 215.8C733.2 216.0 726.0 215.8 736.0 215.8C746.0 215.8 763.2 215.6 776.0 215.8C788.8 216.0 789.1 217.1 800.0 216.9C810.9 216.7 819.4 215.2 830.5 214.6C841.6 214.0 848.0 213.9 855.5 213.7C863.0 213.5 860.5 213.3 868.0 213.8C875.5 214.3 882.6 215.9 893.0 216.2C903.4 216.5 910.0 215.7 920.0 215.2C930.0 214.7 935.0 214.1 943.0 213.8C951.0 213.5 948.9 213.8 960.0 213.9C971.1 214.0 990.9 214.1 998.6 214.2L998.6 255.0C990.9 255.0 971.1 254.9 960.0 255.0C948.9 255.1 951.0 255.3 943.0 255.6C935.0 255.9 930.0 256.6 920.0 256.7C910.0 256.8 903.4 256.9 893.0 256.2C882.6 255.5 875.5 253.7 868.0 253.1C860.5 252.5 863.0 252.9 855.5 253.0C848.0 253.1 841.6 253.4 830.5 253.8C819.4 254.2 810.9 254.8 800.0 255.0C789.1 255.2 788.8 255.0 776.0 254.9C763.2 254.8 746.0 254.7 736.0 254.6C726.0 254.5 733.2 254.5 726.0 254.5C718.8 254.5 707.5 254.5 700.0 254.5C692.5 254.5 694.3 254.4 688.5 254.4C682.7 254.4 682.2 254.3 671.0 254.3C659.8 254.3 640.3 254.2 632.6 254.2Z" fill="#20a386"/>
<path d="M632.6 225.3C640.3 225.4 659.8 225.4 671.0 225.6C682.2 225.8 682.7 226.1 688.5 226.4C694.3 226.7 692.5 226.7 700.0 227.0C707.5 227.3 718.8 227.8 726.0 228.0C733.2 228.2 726.0 228.2 736.0 228.0C746.0 227.8 763.2 227.5 776.0 227.2C788.8 226.9 789.1 226.7 800.0 226.3C810.9 225.9 819.4 225.5 830.5 225.0C841.6 224.5 848.0 224.1 855.5 223.9C863.0 223.7 860.5 223.1 868.0 223.8C875.5 224.5 882.6 227.0 893.0 227.3C903.4 227.6 910.0 226.1 920.0 225.2C930.0 224.3 935.0 223.4 943.0 223.0C951.0 222.6 948.9 223.0 960.0 223.0C971.1 223.0 990.9 223.0 998.6 223.0L998.6 255.0C990.9 255.0 971.1 254.9 960.0 255.0C948.9 255.1 951.0 255.3 943.0 255.6C935.0 255.9 930.0 256.6 920.0 256.7C910.0 256.8 903.4 256.9 893.0 256.2C882.6 255.5 875.5 253.7 868.0 253.1C860.5 252.5 863.0 252.9 855.5 253.0C848.0 253.1 841.6 253.4 830.5 253.8C819.4 254.2 810.9 254.8 800.0 255.0C789.1 255.2 788.8 255.0 776.0 254.9C763.2 254.8 746.0 254.7 736.0 254.6C726.0 254.5 733.2 254.5 726.0 254.5C718.8 254.5 707.5 254.5 700.0 254.5C692.5 254.5 694.3 254.4 688.5 254.4C682.7 254.4 682.2 254.3 671.0 254.3C659.8 254.3 640.3 254.2 632.6 254.2Z" fill="#26838e"/>
<path d="M632.6 235.5C640.3 235.5 659.8 235.5 671.0 235.6C682.2 235.7 682.7 235.7 688.5 235.8C694.3 235.9 692.5 235.9 700.0 236.0C707.5 236.1 718.8 236.2 726.0 236.3C733.2 236.4 726.0 236.4 736.0 236.3C746.0 236.2 763.2 236.1 776.0 235.8C788.8 235.5 789.1 235.3 800.0 235.0C810.9 234.7 819.4 234.4 830.5 234.2C841.6 234.0 848.0 233.9 855.5 233.8C863.0 233.7 860.5 233.4 868.0 233.8C875.5 234.2 882.6 235.2 893.0 235.6C903.4 236.0 910.0 235.8 920.0 235.8C930.0 235.8 935.0 235.6 943.0 235.5C951.0 235.4 948.9 235.5 960.0 235.5C971.1 235.5 990.9 235.5 998.6 235.5L998.6 255.0C990.9 255.0 971.1 254.9 960.0 255.0C948.9 255.1 951.0 255.3 943.0 255.6C935.0 255.9 930.0 256.6 920.0 256.7C910.0 256.8 903.4 256.9 893.0 256.2C882.6 255.5 875.5 253.7 868.0 253.1C860.5 252.5 863.0 252.9 855.5 253.0C848.0 253.1 841.6 253.4 830.5 253.8C819.4 254.2 810.9 254.8 800.0 255.0C789.1 255.2 788.8 255.0 776.0 254.9C763.2 254.8 746.0 254.7 736.0 254.6C726.0 254.5 733.2 254.5 726.0 254.5C718.8 254.5 707.5 254.5 700.0 254.5C692.5 254.5 694.3 254.4 688.5 254.4C682.7 254.4 682.2 254.3 671.0 254.3C659.8 254.3 640.3 254.2 632.6 254.2Z" fill="#35608d"/>
<path d="M632.6 243.3C640.3 243.3 659.8 243.4 671.0 243.5C682.2 243.6 682.7 243.7 688.5 243.8C694.3 243.9 692.5 243.9 700.0 244.0C707.5 244.1 718.8 244.2 726.0 244.3C733.2 244.4 726.0 244.4 736.0 244.5C746.0 244.6 763.2 245.5 776.0 245.0C788.8 244.5 789.1 242.8 800.0 242.0C810.9 241.2 819.4 241.2 830.5 241.2C841.6 241.2 848.0 241.9 855.5 242.2C863.0 242.5 860.5 241.6 868.0 242.6C875.5 243.6 882.6 246.2 893.0 247.0C903.4 247.8 910.0 247.0 920.0 246.6C930.0 246.2 935.0 245.4 943.0 245.0C951.0 244.6 948.9 244.8 960.0 244.7C971.1 244.6 990.9 244.5 998.6 244.5L998.6 255.0C990.9 255.0 971.1 254.9 960.0 255.0C948.9 255.1 951.0 255.3 943.0 255.6C935.0 255.9 930.0 256.6 920.0 256.7C910.0 256.8 903.4 256.9 893.0 256.2C882.6 255.5 875.5 253.7 868.0 253.1C860.5 252.5 863.0 252.9 855.5 253.0C848.0 253.1 841.6 253.4 830.5 253.8C819.4 254.2 810.9 254.8 800.0 255.0C789.1 255.2 788.8 255.0 776.0 254.9C763.2 254.8 746.0 254.7 736.0 254.6C726.0 254.5 733.2 254.5 726.0 254.5C718.8 254.5 707.5 254.5 700.0 254.5C692.5 254.5 694.3 254.4 688.5 254.4C682.7 254.4 682.2 254.3 671.0 254.3C659.8 254.3 640.3 254.2 632.6 254.2Z" fill="#443a83"/>
<g stroke="#333" stroke-width="0.5" fill="none">
<path d="M614.6 72.4V289.4M614.6 72.40h-2.1M614.6 103.38h-2.1M614.6 134.36h-2.1M614.6 165.34h-2.1M614.6 196.32h-2.1M614.6 227.30h-2.1M614.6 258.28h-2.1M614.6 289.26h-2.1"/>
</g>
<g font-size="5.95" text-anchor="end">
<text x="610.6" y="74.60">25</text>
<text x="610.6" y="105.58">20</text>
<text x="610.6" y="136.56">15</text>
<text x="610.6" y="167.54">10</text>
<text x="610.6" y="198.52">5</text>
<text x="610.6" y="229.50">0</text>
<text x="610.6" y="260.48">−5</text>
<text x="610.6" y="291.46">−10</text>
</g>
<text transform="translate(593.4 181.5) rotate(-90)" font-size="4.3">sG</text>
<text transform="translate(623.2 203.2) rotate(-90)" font-size="3.1">1st</text>
<text transform="translate(626.6 203.2) rotate(-90)" font-size="3.1">Pair</text>
<text transform="translate(623.2 228.0) rotate(-90)" font-size="3.1">2nd</text>
<text transform="translate(626.6 228.0) rotate(-90)" font-size="3.1">Pair</text>
<text transform="translate(623.2 247.6) rotate(-90)" font-size="3.1">3rd</text>
<text transform="translate(626.6 247.6) rotate(-90)" font-size="3.1">Pair</text>
<rect x="632.8" y="289.3" width="32.4" height="7.5" fill="#cfcfcf"/>
<text x="649.0" y="294.6" font-size="3.9">14-15</text>
<text x="682.4" y="294.6" font-size="3.9">15-16</text>
<rect x="699.9" y="289.3" width="33.3" height="7.5" fill="#cfcfcf"/>
<text x="716.5" y="294.6" font-size="3.9">16-17</text>
<text x="750.4" y="294.6" font-size="3.9">17-18</text>
<rect x="767.8" y="289.3" width="34.0" height="7.5" fill="#cfcfcf"/>
<text x="784.8" y="294.6" font-size="3.9">18-19</text>
<text x="816.7" y="294.6" font-size="3.9">19-20</text>
<rect x="831.7" y="289.3" width="23.9" height="7.5" fill="#cfcfcf"/>
<text x="843.7" y="294.6" font-size="3.9">20-21</text>
<text x="873.4" y="294.6" font-size="3.9">21-22</text>
<rect x="891.2" y="289.3" width="35.4" height="7.5" fill="#cfcfcf"/>
<text x="908.9" y="294.6" font-size="3.9">22-23</text>
<text x="944.5" y="294.6" font-size="3.9">23-24</text>
<rect x="962.5" y="289.3" width="35.7" height="7.5" fill="#cfcfcf"/>
<text x="980.4" y="294.6" font-size="3.9">24-25</text>
<rect x="639" y="297.8" width="252.3" height="7.5" fill="#acf8a6"/>
<text x="764.8" y="303" font-size="3.4">DAL</text>
<rect x="891.3" y="297.8" width="25.8" height="7.5" fill="#f7b6c6"/>
<text x="904.2" y="303" font-size="3.4">ANA</text>
<rect x="918" y="297.8" width="8" height="7.5" fill="#18c92c"/>
<text x="921.6" y="303" font-size="3.2" fill="#0a5a12">MIN</text>
<rect x="925" y="297.8" width="9.8" height="7.5" rx="3" fill="#0505f0"/>
<text x="929.9" y="303" font-size="3.2" fill="#9db0ff">TOR</text>
<rect x="984.5" y="297.8" width="9.8" height="7.5" rx="1.6" fill="#fa24f4"/>
<text x="989.4" y="303" font-size="3.2" fill="#ffd0ff">EDM</text>
<path d="M665.8 220.5C671.9 216.2 687.0 200.5 699.3 197.3C711.6 194.1 720.5 207.4 733.0 203.3C745.5 199.2 754.9 183.8 767.5 175.0C780.1 166.2 795.5 159.1 801.8 155.5 M801.8 155.5C805.8 162.3 824.7 199.5 831.8 206.8C838.9 214.1 847.1 208.4 855.0 210.3C862.9 212.2 881.2 215.2 890.8 221.0C900.4 226.8 917.4 248.0 927.0 254.0C936.6 260.0 953.0 264.0 962.5 266.3C972.0 268.6 993.3 270.4 998.0 271.0" fill="none" stroke="#e6eef6" stroke-width="2.8" stroke-linejoin="round" opacity="0.85"/>
<path d="M665.8 220.5C671.9 216.2 687.0 200.5 699.3 197.3C711.6 194.1 720.5 207.4 733.0 203.3C745.5 199.2 754.9 183.8 767.5 175.0C780.1 166.2 795.5 159.1 801.8 155.5 M801.8 155.5C805.8 162.3 824.7 199.5 831.8 206.8C838.9 214.1 847.1 208.4 855.0 210.3C862.9 212.2 881.2 215.2 890.8 221.0C900.4 226.8 917.4 248.0 927.0 254.0C936.6 260.0 953.0 264.0 962.5 266.3C972.0 268.6 993.3 270.4 998.0 271.0" fill="none" stroke="#6597c6" stroke-width="1.0" stroke-linejoin="round"/>
<rect x="663.0" y="217.7" width="5.6" height="5.6" rx="0.5" fill="#fff" stroke="#6c9cc8" stroke-width="0.6"/>
<text x="665.8" y="221.6" font-size="3.1" fill="#555">22</text>
<rect x="696.5" y="194.5" width="5.6" height="5.6" rx="0.5" fill="#fff" stroke="#6c9cc8" stroke-width="0.6"/>
<text x="699.3" y="198.4" font-size="3.1" fill="#555">23</text>
<rect x="730.2" y="200.5" width="5.6" height="5.6" rx="0.5" fill="#fff" stroke="#6c9cc8" stroke-width="0.6"/>
<text x="733.0" y="204.4" font-size="3.1" fill="#555">24</text>
<rect x="764.7" y="172.2" width="5.6" height="5.6" rx="0.5" fill="#fff" stroke="#6c9cc8" stroke-width="0.6"/>
<text x="767.5" y="176.1" font-size="3.1" fill="#555">25</text>
<rect x="790.9" y="152.6" width="21.8" height="5.8" rx="0.8" fill="#fff" stroke="#6c9cc8" stroke-width="0.6"/>
<text x="801.8" y="156.8" font-size="3.5">J. Klingberg</text>
<rect x="829.0" y="204.0" width="5.6" height="5.6" rx="0.5" fill="#fff" stroke="#6c9cc8" stroke-width="0.6"/>
<text x="831.8" y="207.9" font-size="3.1" fill="#555">27</text>
<rect x="852.2" y="207.5" width="5.6" height="5.6" rx="0.5" fill="#fff" stroke="#6c9cc8" stroke-width="0.6"/>
<text x="855.0" y="211.4" font-size="3.1" fill="#555">28</text>
<rect x="888.0" y="218.2" width="5.6" height="5.6" rx="0.5" fill="#fff" stroke="#6c9cc8" stroke-width="0.6"/>
<text x="890.8" y="222.1" font-size="3.1" fill="#555">29</text>
<rect x="924.2" y="251.2" width="5.6" height="5.6" rx="0.5" fill="#fff" stroke="#6c9cc8" stroke-width="0.6"/>
<text x="927.0" y="255.1" font-size="3.1" fill="#555">30</text>
<rect x="959.7" y="263.5" width="5.6" height="5.6" rx="0.5" fill="#fff" stroke="#6c9cc8" stroke-width="0.6"/>
<text x="962.5" y="267.4" font-size="3.1" fill="#555">31</text>
<rect x="995.2" y="268.2" width="5.6" height="5.6" rx="0.5" fill="#fff" stroke="#6c9cc8" stroke-width="0.6"/>
<text x="998.0" y="272.1" font-size="3.1" fill="#555">32</text>
</g>
<g>
<rect x="3.50" y="352.50" width="134.00" height="23.75" fill="#b7b7b7" />
<text x="70.50" y="389.92" transform="scale(1 0.95)" >5x5 − Reg.</text>
<rect x="137.50" y="352.50" width="66.00" height="23.75" fill="#b7b7b7" />
<text x="170.50" y="389.92" transform="scale(1 0.95)" >NHL GP</text>
<rect x="203.50" y="352.50" width="106.00" height="23.75" fill="#b7b7b7" />
<text x="256.50" y="389.92" transform="scale(1 0.95)" >TOI+TOI/GP</text>
<rect x="309.50" y="352.50" width="56.00" height="23.75" fill="#b7b7b7" />
<text x="337.50" y="389.92" transform="scale(1 0.95)" >G</text>
<rect x="365.50" y="352.50" width="56.00" height="23.75" fill="#b7b7b7" />
<text x="393.50" y="389.92" transform="scale(1 0.95)" >A</text>
<rect x="421.50" y="352.50" width="61.00" height="23.75" fill="#b7b7b7" />
<text x="452.00" y="389.92" transform="scale(1 0.95)" >P</text>
<rect x="482.50" y="352.50" width="56.00" height="23.75" fill="#b7b7b7" />
<text x="510.50" y="389.92" transform="scale(1 0.95)" >IPP</text>
<rect x="538.50" y="352.50" width="46.00" height="23.75" fill="#b7b7b7" />
<text x="561.50" y="389.92" transform="scale(1 0.95)" >SOG</text>
<rect x="584.50" y="352.50" width="46.50" height="23.75" fill="#b7b7b7" />
<text x="607.75" y="389.92" transform="scale(1 0.95)" >Sh%</text>
<rect x="631.00" y="352.50" width="45.50" height="23.75" fill="#b7b7b7" />
<text x="653.75" y="389.92" transform="scale(1 0.95)" >ixG</text>
<rect x="676.50" y="352.50" width="45.50" height="23.75" fill="#b7b7b7" />
<text x="699.25" y="389.92" transform="scale(1 0.95)" >iSCF</text>
<rect x="722.00" y="352.50" width="56.00" height="23.75" fill="#b7b7b7" />
<text x="750.00" y="389.92" transform="scale(1 0.95)" >iHDCF</text>
<rect x="778.00" y="352.50" width="65.50" height="23.75" fill="#b7b7b7" />
<text x="810.75" y="389.92" transform="scale(1 0.95)" >Blocks</text>
<rect x="843.50" y="352.50" width="66.00" height="23.75" fill="#b7b7b7" />
<text x="876.50" y="389.92" transform="scale(1 0.95)" >Hits</text>
<rect x="909.50" y="352.50" width="66.00" height="23.75" fill="#b7b7b7" />
<text x="942.50" y="389.92" transform="scale(1 0.95)" >PIM</text>
<rect x="975.50" y="352.50" width="44.70" height="23.75" fill="#b7b7b7" />
<text x="997.85" y="389.92" transform="scale(1 0.95)" >FO%</text>
<rect x="3.50" y="376.25" width="134.00" height="23.35" fill="#cccccc" />
<text x="70.50" y="414.71" transform="scale(1 0.95)" >Individual</text>
<rect x="137.50" y="376.25" width="66.00" height="23.35" fill="#f6b26b" />
<text x="170.50" y="414.71" transform="scale(1 0.95)" >10</text>
<rect x="203.50" y="376.25" width="106.00" height="23.35" fill="#f6b26b" />
<text x="256.50" y="414.71" transform="scale(1 0.95)" >181.1</text>
<rect x="309.50" y="376.25" width="56.00" height="23.35" fill="#f6b26b" />
<text x="337.50" y="414.71" transform="scale(1 0.95)" >1</text>
<rect x="365.50" y="376.25" width="56.00" height="23.35" fill="#f6b26b" />
<text x="393.50" y="414.71" transform="scale(1 0.95)" >3</text>
<rect x="421.50" y="376.25" width="61.00" height="23.35" fill="#f6b26b" />
<text x="452.00" y="414.71" transform="scale(1 0.95)" >4</text>
<rect x="482.50" y="376.25" width="56.00" height="23.35" fill="#fefaf6" />
<text x="510.50" y="414.71" transform="scale(1 0.95)" >50.0</text>
<rect x="538.50" y="376.25" width="46.00" height="23.35" fill="#f6b26b" />
<text x="561.50" y="414.71" transform="scale(1 0.95)" >19</text>
<rect x="584.50" y="376.25" width="46.50" height="23.35" fill="#fdf0e1" />
<text x="607.75" y="414.71" transform="scale(1 0.95)" >5.3</text>
<rect x="631.00" y="376.25" width="45.50" height="23.35" fill="#f6b26b" />
<text x="653.75" y="414.71" transform="scale(1 0.95)" >0.9</text>
<rect x="676.50" y="376.25" width="45.50" height="23.35" fill="#f6b26b" />
<text x="699.25" y="414.71" transform="scale(1 0.95)" >9</text>
<rect x="722.00" y="376.25" width="56.00" height="23.35" fill="#f6b26b" />
<text x="750.00" y="414.71" transform="scale(1 0.95)" >3</text>
<rect x="778.00" y="376.25" width="65.50" height="23.35" fill="#f8c189" />
<text x="810.75" y="414.71" transform="scale(1 0.95)" >13</text>
<rect x="843.50" y="376.25" width="66.00" height="23.35" fill="#f6b26b" />
<text x="876.50" y="414.71" transform="scale(1 0.95)" >5</text>
<rect x="909.50" y="376.25" width="66.00" height="23.35" fill="#6fa8dc" />
<text x="942.50" y="414.71" transform="scale(1 0.95)" >8</text>
<rect x="975.50" y="376.25" width="44.70" height="23.35" fill="#ffffff" />
<text x="997.85" y="414.71" transform="scale(1 0.95)" >−</text>
<rect x="3.50" y="399.60" width="134.00" height="23.90" fill="#cccccc" />
<text x="70.50" y="439.58" transform="scale(1 0.95)" >Per/60</text>
<rect x="137.50" y="399.60" width="66.00" height="23.90" fill="#ffffff" />
<rect x="203.50" y="399.60" width="106.00" height="23.90" fill="#6fa8dc" />
<text x="256.50" y="439.58" transform="scale(1 0.95)" >18.1</text>
<rect x="309.50" y="399.60" width="56.00" height="23.90" fill="#fce9d6" />
<text x="337.50" y="439.58" transform="scale(1 0.95)" >0.3</text>
<rect x="365.50" y="399.60" width="56.00" height="23.90" fill="#85b5e1" />
<text x="393.50" y="439.58" transform="scale(1 0.95)" >1.0</text>
<rect x="421.50" y="399.60" width="61.00" height="23.90" fill="#d4e5f4" />
<text x="452.00" y="439.58" transform="scale(1 0.95)" >1.3</text>
<rect x="482.50" y="399.60" width="56.00" height="23.90" fill="#ffffff" />
<rect x="538.50" y="399.60" width="46.00" height="23.90" fill="#ffffff" />
<text x="561.50" y="439.58" transform="scale(1 0.95)" >6.3</text>
<rect x="584.50" y="399.60" width="46.50" height="23.90" fill="#ffffff" />
<rect x="631.00" y="399.60" width="45.50" height="23.90" fill="#f7be81" />
<text x="653.75" y="439.58" transform="scale(1 0.95)" >0.3</text>
<rect x="676.50" y="399.60" width="45.50" height="23.90" fill="#f7be81" />
<text x="699.25" y="439.58" transform="scale(1 0.95)" >3.0</text>
<rect x="722.00" y="399.60" width="56.00" height="23.90" fill="#f9c997" />
<text x="750.00" y="439.58" transform="scale(1 0.95)" >1.0</text>
<rect x="778.00" y="399.60" width="65.50" height="23.90" fill="#6fa8dc" />
<text x="810.75" y="439.58" transform="scale(1 0.95)" >4.3</text>
<rect x="843.50" y="399.60" width="66.00" height="23.90" fill="#ffffff" />
<text x="876.50" y="439.58" transform="scale(1 0.95)" >1.7</text>
<rect x="909.50" y="399.60" width="66.00" height="23.90" fill="#f8c590" />
<text x="942.50" y="439.58" transform="scale(1 0.95)" >2.7</text>
<rect x="975.50" y="399.60" width="44.70" height="23.90" fill="#ffffff" />
<rect x="3.50" y="423.50" width="1016.70" height="16.50" fill="#ffffff" />
<rect x="3.50" y="440.00" width="134.00" height="23.25" fill="#b7b7b7" />
<text x="70.50" y="481.76" transform="scale(1 0.95)" >5x5</text>
<rect x="137.50" y="440.00" width="66.00" height="23.25" fill="#b7b7b7" />
<text x="170.50" y="481.76" transform="scale(1 0.95)" >CF</text>
<rect x="203.50" y="440.00" width="106.00" height="23.25" fill="#b7b7b7" />
<text x="256.50" y="481.76" transform="scale(1 0.95)" >CA</text>
<rect x="309.50" y="440.00" width="56.00" height="23.25" fill="#b7b7b7" />
<text x="337.50" y="481.76" transform="scale(1 0.95)" >CF%</text>
<rect x="365.50" y="440.00" width="56.00" height="23.25" fill="#b7b7b7" />
<text x="393.50" y="481.76" transform="scale(1 0.95)" >SCF</text>
<rect x="421.50" y="440.00" width="61.00" height="23.25" fill="#b7b7b7" />
<text x="452.00" y="481.76" transform="scale(1 0.95)" >SCA</text>
<rect x="482.50" y="440.00" width="56.00" height="23.25" fill="#b7b7b7" />
<text x="510.50" y="481.76" transform="scale(1 0.95)" >SCF%</text>
<rect x="538.50" y="440.00" width="46.00" height="23.25" fill="#b7b7b7" />
<text x="561.50" y="481.76" transform="scale(1 0.95)" >GF</text>
<rect x="584.50" y="440.00" width="46.50" height="23.25" fill="#b7b7b7" />
<text x="607.75" y="481.76" transform="scale(1 0.95)" >GA</text>
<rect x="631.00" y="440.00" width="45.50" height="23.25" fill="#b7b7b7" />
<text x="653.75" y="481.76" transform="scale(1 0.95)" >GF%</text>
<rect x="676.50" y="440.00" width="45.50" height="23.25" fill="#b7b7b7" />
<text x="699.25" y="481.76" transform="scale(1 0.95)" >xGF</text>
<rect x="722.00" y="440.00" width="56.00" height="23.25" fill="#b7b7b7" />
<text x="750.00" y="481.76" transform="scale(1 0.95)" >xGA</text>
<rect x="778.00" y="440.00" width="65.50" height="23.25" fill="#b7b7b7" />
<text x="810.75" y="481.76" transform="scale(1 0.95)" >xGF%</text>
<rect x="3.50" y="463.25" width="134.00" height="24.00" fill="#cccccc" />
<text x="70.50" y="506.63" transform="scale(1 0.95)" >Individual</text>
<rect x="137.50" y="463.25" width="66.00" height="24.00" fill="#f6b26b" />
<text x="170.50" y="506.63" transform="scale(1 0.95)" >186</text>
<rect x="203.50" y="463.25" width="106.00" height="24.00" fill="#6fa8dc" />
<text x="256.50" y="506.63" transform="scale(1 0.95)" >195</text>
<rect x="309.50" y="463.25" width="56.00" height="24.00" fill="#f8c38c" />
<text x="337.50" y="506.63" transform="scale(1 0.95)" >48.8</text>
<rect x="365.50" y="463.25" width="56.00" height="24.00" fill="#f6b26b" />
<text x="393.50" y="506.63" transform="scale(1 0.95)" >76</text>
<rect x="421.50" y="463.25" width="61.00" height="24.00" fill="#6fa8dc" />
<text x="452.00" y="506.63" transform="scale(1 0.95)" >91</text>
<rect x="482.50" y="463.25" width="56.00" height="24.00" fill="#f6b26b" />
<text x="510.50" y="506.63" transform="scale(1 0.95)" >45.5</text>
<rect x="538.50" y="463.25" width="46.00" height="24.00" fill="#f6b26b" />
<text x="561.50" y="506.63" transform="scale(1 0.95)" >8</text>
<rect x="584.50" y="463.25" width="46.50" height="24.00" fill="#6fa8dc" />
<text x="607.75" y="506.63" transform="scale(1 0.95)" >9</text>
<rect x="631.00" y="463.25" width="45.50" height="24.00" fill="#fef3e9" />
<text x="653.75" y="506.63" transform="scale(1 0.95)" >47.1</text>
<rect x="676.50" y="463.25" width="45.50" height="24.00" fill="#f6b26b" />
<text x="699.25" y="506.63" transform="scale(1 0.95)" >8.4</text>
<rect x="722.00" y="463.25" width="56.00" height="24.00" fill="#6fa8dc" />
<text x="750.00" y="506.63" transform="scale(1 0.95)" >9.5</text>
<rect x="778.00" y="463.25" width="65.50" height="24.00" fill="#f6b26b" />
<text x="810.75" y="506.63" transform="scale(1 0.95)" >46.8</text>
<rect x="3.50" y="487.25" width="134.00" height="23.15" fill="#cccccc" />
<text x="70.50" y="531.45" transform="scale(1 0.95)" >Per/60</text>
<rect x="137.50" y="487.25" width="66.00" height="23.15" fill="#ffffff" />
<text x="170.50" y="531.45" transform="scale(1 0.95)" >61.6</text>
<rect x="203.50" y="487.25" width="106.00" height="23.15" fill="#f6b26b" />
<text x="256.50" y="531.45" transform="scale(1 0.95)" >64.6</text>
<rect x="309.50" y="487.25" width="56.00" height="23.15" fill="#ffffff" />
<rect x="365.50" y="487.25" width="56.00" height="23.15" fill="#fad8b5" />
<text x="393.50" y="531.45" transform="scale(1 0.95)" >25.2</text>
<rect x="421.50" y="487.25" width="61.00" height="23.15" fill="#f6b26b" />
<text x="452.00" y="531.45" transform="scale(1 0.95)" >30.2</text>
<rect x="482.50" y="487.25" width="56.00" height="23.15" fill="#ffffff" />
<rect x="538.50" y="487.25" width="46.00" height="23.15" fill="#c5dcf1" />
<text x="561.50" y="531.45" transform="scale(1 0.95)" >2.7</text>
<rect x="584.50" y="487.25" width="46.50" height="23.15" fill="#f6b26b" />
<text x="607.75" y="531.45" transform="scale(1 0.95)" >3.0</text>
<rect x="631.00" y="487.25" width="45.50" height="23.15" fill="#ffffff" />
<rect x="676.50" y="487.25" width="45.50" height="23.15" fill="#eef5fb" />
<text x="699.25" y="531.45" transform="scale(1 0.95)" >2.8</text>
<rect x="722.00" y="487.25" width="56.00" height="23.15" fill="#f6b26b" />
<text x="750.00" y="531.45" transform="scale(1 0.95)" >3.2</text>
<rect x="778.00" y="487.25" width="65.50" height="23.15" fill="#ffffff" />
<rect x="3.50" y="510.40" width="134.00" height="23.60" fill="#cccccc" />
<text x="70.50" y="556.05" transform="scale(1 0.95)" >RelTm%/60</text>
<rect x="137.50" y="510.40" width="66.00" height="23.60" fill="#fffdfb" />
<text x="170.50" y="556.05" transform="scale(1 0.95)" >−3.2</text>
<rect x="203.50" y="510.40" width="106.00" height="23.60" fill="#f6b26b" />
<text x="256.50" y="556.05" transform="scale(1 0.95)" >14.1</text>
<rect x="309.50" y="510.40" width="56.00" height="23.60" fill="#f8c590" />
<text x="337.50" y="556.05" transform="scale(1 0.95)" >−7.4</text>
<rect x="365.50" y="510.40" width="56.00" height="23.60" fill="#fad8b5" />
<text x="393.50" y="556.05" transform="scale(1 0.95)" >−5.2</text>
<rect x="421.50" y="510.40" width="61.00" height="23.60" fill="#f7bb7d" />
<text x="452.00" y="556.05" transform="scale(1 0.95)" >1.8</text>
<rect x="482.50" y="510.40" width="56.00" height="23.60" fill="#f9c997" />
<text x="510.50" y="556.05" transform="scale(1 0.95)" >−6.2</text>
<rect x="538.50" y="510.40" width="46.00" height="23.60" fill="#6fa8dc" />
<text x="561.50" y="556.05" transform="scale(1 0.95)" >1.2</text>
<rect x="584.50" y="510.40" width="46.50" height="23.60" fill="#6fa8dc" />
<text x="607.75" y="556.05" transform="scale(1 0.95)" >−1.0</text>
<rect x="631.00" y="510.40" width="45.50" height="23.60" fill="#6fa8dc" />
<text x="653.75" y="556.05" transform="scale(1 0.95)" >19.8</text>
<rect x="676.50" y="510.40" width="45.50" height="23.60" fill="#ffffff" />
<text x="699.25" y="556.05" transform="scale(1 0.95)" >−0.2</text>
<rect x="722.00" y="510.40" width="56.00" height="23.60" fill="#f6b26b" />
<text x="750.00" y="556.05" transform="scale(1 0.95)" >0.4</text>
<rect x="778.00" y="510.40" width="65.50" height="23.60" fill="#fce9d6" />
<text x="810.75" y="556.05" transform="scale(1 0.95)" >−5.1</text>
<rect x="843.50" y="440.00" width="132.00" height="94.00" fill="#b7b7b7" />
<rect x="975.50" y="440.00" width="44.70" height="23.25" fill="#b7b7b7" />
<text x="997.85" y="481.76" transform="scale(1 0.95)" >PDO</text>
<rect x="975.50" y="463.25" width="44.70" height="70.75" fill="#ffffff" />
<rect x="975.50" y="463.25" width="44.70" height="24.00" fill="#d6c1a9" />
<text x="997.55" y="506.79" font-size="14.1" transform="scale(1 0.95)" >99.5</text>
</g>
<g stroke="#111" stroke-width="0.62" fill="none">
<path d="M3.50 376.25H1020.20 M3.50 399.60H1020.20 M3.50 423.50H1020.20 M137.50 352.50V423.50 M203.50 352.50V423.50 M309.50 352.50V423.50 M365.50 352.50V423.50 M421.50 352.50V423.50 M482.50 352.50V423.50 M538.50 352.50V423.50 M584.50 352.50V423.50 M631.00 352.50V423.50 M676.50 352.50V423.50 M722.00 352.50V423.50 M778.00 352.50V423.50 M843.50 352.50V423.50 M909.50 352.50V423.50 M975.50 352.50V423.50 M3.50 440.00H1020.20 M3.50 440.00H843.50 M975.50 440.00H1020.20 M3.50 463.25H843.50 M975.50 463.25H1020.20 M3.50 487.25H843.50 M975.50 487.25H1020.20 M3.50 510.40H843.50 M975.50 510.40H1020.20 M137.50 440.00V534.00 M203.50 440.00V534.00 M309.50 440.00V534.00 M365.50 440.00V534.00 M421.50 440.00V534.00 M482.50 440.00V534.00 M538.50 440.00V534.00 M584.50 440.00V534.00 M631.00 440.00V534.00 M676.50 440.00V534.00 M722.00 440.00V534.00 M778.00 440.00V534.00 M843.50 440.00V534.00 M975.50 440.00V534.00"/>
</g>
<g>
<rect x="3.50" y="536.50" width="134.00" height="23.75" fill="#b7b7b7" />
<text x="70.50" y="583.61" transform="scale(1 0.95)" >5x5 − Post</text>
<rect x="137.50" y="536.50" width="66.00" height="23.75" fill="#b7b7b7" />
<text x="170.50" y="583.61" transform="scale(1 0.95)" >NHL GP</text>
<rect x="203.50" y="536.50" width="106.00" height="23.75" fill="#b7b7b7" />
<text x="256.50" y="583.61" transform="scale(1 0.95)" >TOI+TOI/GP</text>
<rect x="309.50" y="536.50" width="56.00" height="23.75" fill="#b7b7b7" />
<text x="337.50" y="583.61" transform="scale(1 0.95)" >G</text>
<rect x="365.50" y="536.50" width="56.00" height="23.75" fill="#b7b7b7" />
<text x="393.50" y="583.61" transform="scale(1 0.95)" >A</text>
<rect x="421.50" y="536.50" width="61.00" height="23.75" fill="#b7b7b7" />
<text x="452.00" y="583.61" transform="scale(1 0.95)" >P</text>
<rect x="482.50" y="536.50" width="56.00" height="23.75" fill="#b7b7b7" />
<text x="510.50" y="583.61" transform="scale(1 0.95)" >IPP</text>
<rect x="538.50" y="536.50" width="46.00" height="23.75" fill="#b7b7b7" />
<text x="561.50" y="583.61" transform="scale(1 0.95)" >SOG</text>
<rect x="584.50" y="536.50" width="46.50" height="23.75" fill="#b7b7b7" />
<text x="607.75" y="583.61" transform="scale(1 0.95)" >Sh%</text>
<rect x="631.00" y="536.50" width="45.50" height="23.75" fill="#b7b7b7" />
<text x="653.75" y="583.61" transform="scale(1 0.95)" >ixG</text>
<rect x="676.50" y="536.50" width="45.50" height="23.75" fill="#b7b7b7" />
<text x="699.25" y="583.61" transform="scale(1 0.95)" >iSCF</text>
<rect x="722.00" y="536.50" width="56.00" height="23.75" fill="#b7b7b7" />
<text x="750.00" y="583.61" transform="scale(1 0.95)" >iHDCF</text>
<rect x="778.00" y="536.50" width="65.50" height="23.75" fill="#b7b7b7" />
<text x="810.75" y="583.61" transform="scale(1 0.95)" >Blocks</text>
<rect x="843.50" y="536.50" width="66.00" height="23.75" fill="#b7b7b7" />
<text x="876.50" y="583.61" transform="scale(1 0.95)" >Hits</text>
<rect x="909.50" y="536.50" width="66.00" height="23.75" fill="#b7b7b7" />
<text x="942.50" y="583.61" transform="scale(1 0.95)" >PIM</text>
<rect x="975.50" y="536.50" width="44.70" height="23.75" fill="#b7b7b7" />
<text x="997.85" y="583.61" transform="scale(1 0.95)" >FO%</text>
<rect x="3.50" y="560.25" width="134.00" height="23.15" fill="#cccccc" />
<text x="70.50" y="608.29" transform="scale(1 0.95)" >Individual</text>
<rect x="137.50" y="560.25" width="66.00" height="23.15" fill="#fce9d6" />
<text x="170.50" y="608.29" transform="scale(1 0.95)" >19</text>
<rect x="203.50" y="560.25" width="106.00" height="23.15" fill="#bed8ef" />
<text x="256.50" y="608.29" transform="scale(1 0.95)" >336.7</text>
<rect x="309.50" y="560.25" width="56.00" height="23.15" fill="#f6b26b" />
<text x="337.50" y="608.29" transform="scale(1 0.95)" >0</text>
<rect x="365.50" y="560.25" width="56.00" height="23.15" fill="#fce4cb" />
<text x="393.50" y="608.29" transform="scale(1 0.95)" >3</text>
<rect x="421.50" y="560.25" width="61.00" height="23.15" fill="#f7be81" />
<text x="452.00" y="608.29" transform="scale(1 0.95)" >3</text>
<rect x="482.50" y="560.25" width="56.00" height="23.15" fill="#f6b26b" />
<text x="510.50" y="608.29" transform="scale(1 0.95)" >25.0</text>
<rect x="538.50" y="560.25" width="46.00" height="23.15" fill="#fdf1e4" />
<text x="561.50" y="608.29" transform="scale(1 0.95)" >20</text>
<rect x="584.50" y="560.25" width="46.50" height="23.15" fill="#f6b26b" />
<text x="607.75" y="608.29" transform="scale(1 0.95)" >0.0</text>
<rect x="631.00" y="560.25" width="45.50" height="23.15" fill="#f7ba7a" />
<text x="653.75" y="608.29" transform="scale(1 0.95)" >0.7</text>
<rect x="676.50" y="560.25" width="45.50" height="23.15" fill="#f8c189" />
<text x="699.25" y="608.29" transform="scale(1 0.95)" >9</text>
<rect x="722.00" y="560.25" width="56.00" height="23.15" fill="#f6b672" />
<text x="750.00" y="608.29" transform="scale(1 0.95)" >2</text>
<rect x="778.00" y="560.25" width="65.50" height="23.15" fill="#6fa8dc" />
<text x="810.75" y="608.29" transform="scale(1 0.95)" >31</text>
<rect x="843.50" y="560.25" width="66.00" height="23.15" fill="#fef3e9" />
<text x="876.50" y="608.29" transform="scale(1 0.95)" >24</text>
<rect x="909.50" y="560.25" width="66.00" height="23.15" fill="#6fa8dc" />
<text x="942.50" y="608.29" transform="scale(1 0.95)" >2</text>
<rect x="975.50" y="560.25" width="44.70" height="23.15" fill="#ffffff" />
<text x="997.85" y="608.29" transform="scale(1 0.95)" >−</text>
<rect x="3.50" y="583.40" width="134.00" height="23.85" fill="#cccccc" />
<text x="70.50" y="633.03" transform="scale(1 0.95)" >Per/60</text>
<rect x="137.50" y="583.40" width="66.00" height="23.85" fill="#ffffff" />
<rect x="203.50" y="583.40" width="106.00" height="23.85" fill="#8cb9e3" />
<text x="256.50" y="633.03" transform="scale(1 0.95)" >17.7</text>
<rect x="309.50" y="583.40" width="56.00" height="23.85" fill="#f6b26b" />
<text x="337.50" y="633.03" transform="scale(1 0.95)" >0.0</text>
<rect x="365.50" y="583.40" width="56.00" height="23.85" fill="#fad5ae" />
<text x="393.50" y="633.03" transform="scale(1 0.95)" >0.5</text>
<rect x="421.50" y="583.40" width="61.00" height="23.85" fill="#f7be81" />
<text x="452.00" y="633.03" transform="scale(1 0.95)" >0.5</text>
<rect x="482.50" y="583.40" width="56.00" height="23.85" fill="#ffffff" />
<rect x="538.50" y="583.40" width="46.00" height="23.85" fill="#f6b26b" />
<text x="561.50" y="633.03" transform="scale(1 0.95)" >3.6</text>
<rect x="584.50" y="583.40" width="46.50" height="23.85" fill="#ffffff" />
<rect x="631.00" y="583.40" width="45.50" height="23.85" fill="#f6b26b" />
<text x="653.75" y="633.03" transform="scale(1 0.95)" >0.1</text>
<rect x="676.50" y="583.40" width="45.50" height="23.85" fill="#f7be81" />
<text x="699.25" y="633.03" transform="scale(1 0.95)" >1.6</text>
<rect x="722.00" y="583.40" width="56.00" height="23.85" fill="#f7b877" />
<text x="750.00" y="633.03" transform="scale(1 0.95)" >0.4</text>
<rect x="778.00" y="583.40" width="65.50" height="23.85" fill="#6fa8dc" />
<text x="810.75" y="633.03" transform="scale(1 0.95)" >5.5</text>
<rect x="843.50" y="583.40" width="66.00" height="23.85" fill="#fbdcbc" />
<text x="876.50" y="633.03" transform="scale(1 0.95)" >4.3</text>
<rect x="909.50" y="583.40" width="66.00" height="23.85" fill="#6fa8dc" />
<text x="942.50" y="633.03" transform="scale(1 0.95)" >0.4</text>
<rect x="975.50" y="583.40" width="44.70" height="23.85" fill="#ffffff" />
<rect x="3.50" y="607.25" width="1016.70" height="16.75" fill="#ffffff" />
<rect x="3.50" y="624.00" width="134.00" height="23.25" fill="#b7b7b7" />
<text x="70.50" y="675.45" transform="scale(1 0.95)" >5x5</text>
<rect x="137.50" y="624.00" width="66.00" height="23.25" fill="#b7b7b7" />
<text x="170.50" y="675.45" transform="scale(1 0.95)" >CF</text>
<rect x="203.50" y="624.00" width="106.00" height="23.25" fill="#b7b7b7" />
<text x="256.50" y="675.45" transform="scale(1 0.95)" >CA</text>
<rect x="309.50" y="624.00" width="56.00" height="23.25" fill="#b7b7b7" />
<text x="337.50" y="675.45" transform="scale(1 0.95)" >CF%</text>
<rect x="365.50" y="624.00" width="56.00" height="23.25" fill="#b7b7b7" />
<text x="393.50" y="675.45" transform="scale(1 0.95)" >SCF</text>
<rect x="421.50" y="624.00" width="61.00" height="23.25" fill="#b7b7b7" />
<text x="452.00" y="675.45" transform="scale(1 0.95)" >SCA</text>
<rect x="482.50" y="624.00" width="56.00" height="23.25" fill="#b7b7b7" />
<text x="510.50" y="675.45" transform="scale(1 0.95)" >SCF%</text>
<rect x="538.50" y="624.00" width="46.00" height="23.25" fill="#b7b7b7" />
<text x="561.50" y="675.45" transform="scale(1 0.95)" >GF</text>
<rect x="584.50" y="624.00" width="46.50" height="23.25" fill="#b7b7b7" />
<text x="607.75" y="675.45" transform="scale(1 0.95)" >GA</text>
<rect x="631.00" y="624.00" width="45.50" height="23.25" fill="#b7b7b7" />
<text x="653.75" y="675.45" transform="scale(1 0.95)" >GF%</text>
<rect x="676.50" y="624.00" width="45.50" height="23.25" fill="#b7b7b7" />
<text x="699.25" y="675.45" transform="scale(1 0.95)" >xGF</text>
<rect x="722.00" y="624.00" width="56.00" height="23.25" fill="#b7b7b7" />
<text x="750.00" y="675.45" transform="scale(1 0.95)" >xGA</text>
<rect x="778.00" y="624.00" width="65.50" height="23.25" fill="#b7b7b7" />
<text x="810.75" y="675.45" transform="scale(1 0.95)" >xGF%</text>
<rect x="3.50" y="647.25" width="134.00" height="24.00" fill="#cccccc" />
<text x="70.50" y="700.32" transform="scale(1 0.95)" >Individual</text>
<rect x="137.50" y="647.25" width="66.00" height="24.00" fill="#b0cfec" />
<text x="170.50" y="700.32" transform="scale(1 0.95)" >367</text>
<rect x="203.50" y="647.25" width="106.00" height="24.00" fill="#f7ba7a" />
<text x="256.50" y="700.32" transform="scale(1 0.95)" >372</text>
<rect x="309.50" y="647.25" width="56.00" height="24.00" fill="#e9f2fa" />
<text x="337.50" y="700.32" transform="scale(1 0.95)" >49.7</text>
<rect x="365.50" y="647.25" width="56.00" height="24.00" fill="#6fa8dc" />
<text x="393.50" y="700.32" transform="scale(1 0.95)" >165</text>
<rect x="421.50" y="647.25" width="61.00" height="24.00" fill="#f6b26b" />
<text x="452.00" y="700.32" transform="scale(1 0.95)" >182</text>
<rect x="482.50" y="647.25" width="56.00" height="24.00" fill="#ffffff" />
<text x="510.50" y="700.32" transform="scale(1 0.95)" >47.6</text>
<rect x="538.50" y="647.25" width="46.00" height="24.00" fill="#e2eef8" />
<text x="561.50" y="700.32" transform="scale(1 0.95)" >12</text>
<rect x="584.50" y="647.25" width="46.50" height="24.00" fill="#fdeede" />
<text x="607.75" y="700.32" transform="scale(1 0.95)" >10</text>
<rect x="631.00" y="647.25" width="45.50" height="24.00" fill="#fce8d3" />
<text x="653.75" y="700.32" transform="scale(1 0.95)" >54.6</text>
<rect x="676.50" y="647.25" width="45.50" height="24.00" fill="#bed8ef" />
<text x="699.25" y="700.32" transform="scale(1 0.95)" >16.5</text>
<rect x="722.00" y="647.25" width="56.00" height="24.00" fill="#f6b26b" />
<text x="750.00" y="700.32" transform="scale(1 0.95)" >17.3</text>
<rect x="778.00" y="647.25" width="65.50" height="24.00" fill="#fbfcfe" />
<text x="810.75" y="700.32" transform="scale(1 0.95)" >48.8</text>
<rect x="3.50" y="671.25" width="134.00" height="23.25" fill="#cccccc" />
<text x="70.50" y="725.18" transform="scale(1 0.95)" >Per/60</text>
<rect x="137.50" y="671.25" width="66.00" height="23.25" fill="#b0cfec" />
<text x="170.50" y="725.18" transform="scale(1 0.95)" >65.4</text>
<rect x="203.50" y="671.25" width="106.00" height="23.25" fill="#f8c189" />
<text x="256.50" y="725.18" transform="scale(1 0.95)" >66.3</text>
<rect x="309.50" y="671.25" width="56.00" height="23.25" fill="#ffffff" />
<rect x="365.50" y="671.25" width="56.00" height="23.25" fill="#b0cfec" />
<text x="393.50" y="725.18" transform="scale(1 0.95)" >29.4</text>
<rect x="421.50" y="671.25" width="61.00" height="23.25" fill="#f6b26b" />
<text x="452.00" y="725.18" transform="scale(1 0.95)" >32.4</text>
<rect x="482.50" y="671.25" width="56.00" height="23.25" fill="#ffffff" />
<rect x="538.50" y="671.25" width="46.00" height="23.25" fill="#fad1a6" />
<text x="561.50" y="725.18" transform="scale(1 0.95)" >2.1</text>
<rect x="584.50" y="671.25" width="46.50" height="23.25" fill="#f1f6fc" />
<text x="607.75" y="725.18" transform="scale(1 0.95)" >1.8</text>
<rect x="631.00" y="671.25" width="45.50" height="23.25" fill="#ffffff" />
<rect x="676.50" y="671.25" width="45.50" height="23.25" fill="#c8def2" />
<text x="699.25" y="725.18" transform="scale(1 0.95)" >2.9</text>
<rect x="722.00" y="671.25" width="56.00" height="23.25" fill="#f6b26b" />
<text x="750.00" y="725.18" transform="scale(1 0.95)" >3.1</text>
<rect x="778.00" y="671.25" width="65.50" height="23.25" fill="#ffffff" />
<rect x="3.50" y="694.50" width="134.00" height="23.00" fill="#cccccc" />
<text x="70.50" y="749.53" transform="scale(1 0.95)" >RelTm%/60</text>
<rect x="137.50" y="694.50" width="66.00" height="23.00" fill="#b7d4ee" />
<text x="170.50" y="749.53" transform="scale(1 0.95)" >3.0</text>
<rect x="203.50" y="694.50" width="106.00" height="23.00" fill="#f8c590" />
<text x="256.50" y="749.53" transform="scale(1 0.95)" >9.1</text>
<rect x="309.50" y="694.50" width="56.00" height="23.00" fill="#fbfcfe" />
<text x="337.50" y="749.53" transform="scale(1 0.95)" >−2.5</text>
<rect x="365.50" y="694.50" width="56.00" height="23.00" fill="#b7d4ee" />
<text x="393.50" y="749.53" transform="scale(1 0.95)" >2.3</text>
<rect x="421.50" y="694.50" width="61.00" height="23.00" fill="#f6b26b" />
<text x="452.00" y="749.53" transform="scale(1 0.95)" >7.9</text>
<rect x="482.50" y="694.50" width="56.00" height="23.00" fill="#fdecda" />
<text x="510.50" y="749.53" transform="scale(1 0.95)" >−4.9</text>
<rect x="538.50" y="694.50" width="46.00" height="23.00" fill="#fad1a6" />
<text x="561.50" y="749.53" transform="scale(1 0.95)" >−0.7</text>
<rect x="584.50" y="694.50" width="46.50" height="23.00" fill="#e5eff9" />
<text x="607.75" y="749.53" transform="scale(1 0.95)" >−0.3</text>
<rect x="631.00" y="694.50" width="45.50" height="23.00" fill="#fad1a6" />
<text x="653.75" y="749.53" transform="scale(1 0.95)" >−3.6</text>
<rect x="676.50" y="694.50" width="45.50" height="23.00" fill="#eef5fb" />
<text x="699.25" y="749.53" transform="scale(1 0.95)" >0.1</text>
<rect x="722.00" y="694.50" width="56.00" height="23.00" fill="#f6b26b" />
<text x="750.00" y="749.53" transform="scale(1 0.95)" >0.7</text>
<rect x="778.00" y="694.50" width="65.50" height="23.00" fill="#fce4cb" />
<text x="810.75" y="749.53" transform="scale(1 0.95)" >−6.3</text>
<rect x="843.50" y="624.00" width="132.00" height="93.50" fill="#b7b7b7" />
<rect x="975.50" y="624.00" width="44.70" height="23.25" fill="#b7b7b7" />
<text x="997.85" y="675.45" transform="scale(1 0.95)" >PDO</text>
<rect x="975.50" y="647.25" width="44.70" height="70.25" fill="#ffffff" />
<rect x="975.50" y="647.25" width="44.70" height="24.00" fill="#c9d2d7" />
<text x="997.55" y="700.47" font-size="14.1" transform="scale(1 0.95)" >100.2</text>
</g>
<g stroke="#111" stroke-width="0.62" fill="none">
<path d="M3.50 560.25H1020.20 M3.50 583.40H1020.20 M3.50 607.25H1020.20 M137.50 536.50V607.25 M203.50 536.50V607.25 M309.50 536.50V607.25 M365.50 536.50V607.25 M421.50 536.50V607.25 M482.50 536.50V607.25 M538.50 536.50V607.25 M584.50 536.50V607.25 M631.00 536.50V607.25 M676.50 536.50V607.25 M722.00 536.50V607.25 M778.00 536.50V607.25 M843.50 536.50V607.25 M909.50 536.50V607.25 M975.50 536.50V607.25 M3.50 624.00H1020.20 M3.50 624.00H843.50 M975.50 624.00H1020.20 M3.50 647.25H843.50 M975.50 647.25H1020.20 M3.50 671.25H843.50 M975.50 671.25H1020.20 M3.50 694.50H843.50 M975.50 694.50H1020.20 M137.50 624.00V717.50 M203.50 624.00V717.50 M309.50 624.00V717.50 M365.50 624.00V717.50 M421.50 624.00V717.50 M482.50 624.00V717.50 M538.50 624.00V717.50 M584.50 624.00V717.50 M631.00 624.00V717.50 M676.50 624.00V717.50 M722.00 624.00V717.50 M778.00 624.00V717.50 M843.50 624.00V717.50 M975.50 624.00V717.50"/>
</g>
<rect x="3.90" y="719.00" width="1016.30" height="16.50" fill="#b7b7b7" />
<text x="512.30" y="769.37" font-size="7.7" transform="scale(1 0.95)" >Player image via NHL. Charts via hockeyviz.com. Analytics via naturalstattrick.com. Player info and stats via hockey-reference.com. Graphic by Zach Laing.</text>
<g fill="#000">
<rect x="2.50" y="350.40" width="1018.90" height="2.20" fill="#000" />
<rect x="2.50" y="534.00" width="1018.90" height="2.60" fill="#000" />
<rect x="2.50" y="717.30" width="1018.90" height="2.20" fill="#000" />
</g>
<path d="M1.2 1.2H1022.9V736.5H1.2Z M3.55 3.65V734.5H1020.1V3.65Z" fill="#000" fill-rule="evenodd"/>
</svg>
</body>
</html>
